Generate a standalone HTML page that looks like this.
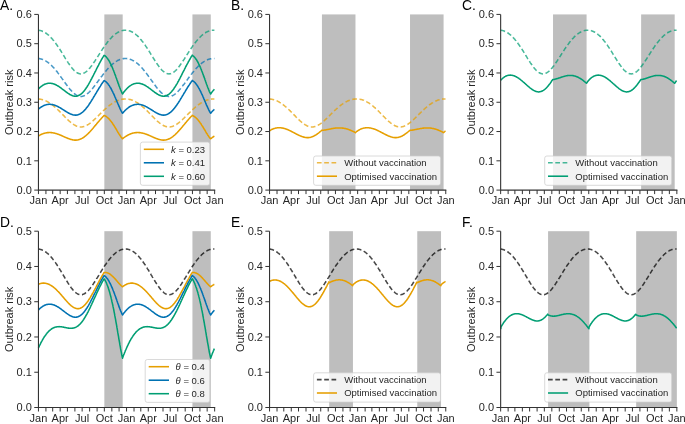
<!DOCTYPE html>
<html><head><meta charset="utf-8"><style>html,body{margin:0;padding:0;background:#fff;overflow:hidden}svg{display:block;filter:blur(0.3px)}</style></head>
<body><svg width="685" height="424" viewBox="0 0 685 424"><style>text{font-family:"Liberation Sans",sans-serif;fill:#262626}.t{font-size:11px}.yl{font-size:11px}.lg{font-size:9.5px}.pl{font-size:13.8px;fill:#000}</style><rect width="685" height="424" fill="#fff"/><rect x="104.34" y="14.42" width="18.34" height="175.68" fill="#bebebe"/><rect x="192.44" y="14.42" width="18.34" height="175.68" fill="#bebebe"/><path d="M38.5,99.0L38.8,99.0L39.2,99.0L39.5,99.1L39.9,99.1L40.3,99.2L40.6,99.3L41.0,99.3L41.3,99.4L41.7,99.5L42.1,99.6L42.4,99.7L42.8,99.8L43.2,99.9L43.5,100.0L43.9,100.1L44.2,100.2L44.6,100.4L45.0,100.5L45.3,100.7L45.7,100.8L46.1,101.0L46.4,101.2L46.8,101.4L47.1,101.5L47.5,101.7L47.9,101.9L48.2,102.1L48.6,102.4L48.9,102.6L49.3,102.8L49.7,103.0L50.0,103.3L50.4,103.5L50.8,103.8L51.1,104.0L51.5,104.3L51.8,104.5L52.2,104.8L52.6,105.1L52.9,105.4L53.3,105.7L53.7,106.0L54.0,106.3L54.4,106.6L54.7,106.9L55.1,107.2L55.5,107.5L55.8,107.8L56.2,108.2L56.6,108.5L56.9,108.8L57.3,109.2L57.6,109.5L58.0,109.9L58.4,110.2L58.7,110.6L59.1,110.9L59.4,111.3L59.8,111.7L60.2,112.0L60.5,112.4L60.9,112.8L61.3,113.1L61.6,113.5L62.0,113.9L62.3,114.2L62.7,114.6L63.1,115.0L63.4,115.4L63.8,115.7L64.2,116.1L64.5,116.5L64.9,116.9L65.2,117.2L65.6,117.6L66.0,118.0L66.3,118.3L66.7,118.7L67.1,119.0L67.4,119.4L67.8,119.7L68.1,120.1L68.5,120.4L68.9,120.8L69.2,121.1L69.6,121.4L69.9,121.7L70.3,122.0L70.7,122.3L71.0,122.6L71.4,122.9L71.8,123.2L72.1,123.5L72.5,123.7L72.8,124.0L73.2,124.3L73.6,124.5L73.9,124.7L74.3,124.9L74.7,125.1L75.0,125.3L75.4,125.5L75.7,125.7L76.1,125.9L76.5,126.0L76.8,126.2L77.2,126.3L77.6,126.4L77.9,126.5L78.3,126.6L78.6,126.7L79.0,126.8L79.4,126.8L79.7,126.9L80.1,126.9L80.4,126.9L80.8,127.0L81.2,126.9L81.5,126.9L81.9,126.9L82.3,126.9L82.6,126.8L83.0,126.7L83.3,126.7L83.7,126.6L84.1,126.5L84.4,126.4L84.8,126.2L85.2,126.1L85.5,125.9L85.9,125.8L86.2,125.6L86.6,125.4L87.0,125.2L87.3,125.0L87.7,124.8L88.1,124.6L88.4,124.4L88.8,124.1L89.1,123.9L89.5,123.6L89.9,123.4L90.2,123.1L90.6,122.8L90.9,122.5L91.3,122.2L91.7,121.9L92.0,121.6L92.4,121.3L92.8,121.0L93.1,120.7L93.5,120.4L93.8,120.0L94.2,119.7L94.6,119.4L94.9,119.0L95.3,118.7L95.7,118.3L96.0,118.0L96.4,117.6L96.7,117.3L97.1,116.9L97.5,116.5L97.8,116.2L98.2,115.8L98.6,115.5L98.9,115.1L99.3,114.7L99.6,114.4L100.0,114.0L100.4,113.7L100.7,113.3L101.1,112.9L101.4,112.6L101.8,112.2L102.2,111.9L102.5,111.5L102.9,111.2L103.3,110.8L103.6,110.5L104.0,110.1L104.3,109.8L104.7,109.5L105.1,109.1L105.4,108.8L105.8,108.5L106.2,108.2L106.5,107.8L106.9,107.5L107.2,107.2L107.6,106.9L108.0,106.6L108.3,106.3L108.7,106.0L109.1,105.7L109.4,105.5L109.8,105.2L110.1,104.9L110.5,104.6L110.9,104.4L111.2,104.1L111.6,103.9L111.9,103.6L112.3,103.4L112.7,103.2L113.0,102.9L113.4,102.7L113.8,102.5L114.1,102.3L114.5,102.1L114.8,101.9L115.2,101.7L115.6,101.5L115.9,101.3L116.3,101.1L116.7,101.0L117.0,100.8L117.4,100.7L117.7,100.5L118.1,100.4L118.5,100.2L118.8,100.1L119.2,100.0L119.6,99.9L119.9,99.8L120.3,99.7L120.6,99.6L121.0,99.5L121.4,99.4L121.7,99.3L122.1,99.3L122.4,99.2L122.8,99.1L123.2,99.1L123.5,99.1L123.9,99.0L124.3,99.0L124.6,99.0L125.0,99.0L125.3,99.0L125.7,99.0L126.1,99.0L126.4,99.0L126.8,99.0L127.2,99.0L127.5,99.1L127.9,99.1L128.2,99.2L128.6,99.2L129.0,99.3L129.3,99.4L129.7,99.4L130.0,99.5L130.4,99.6L130.8,99.7L131.1,99.8L131.5,100.0L131.9,100.1L132.2,100.2L132.6,100.3L132.9,100.5L133.3,100.6L133.7,100.8L134.0,100.9L134.4,101.1L134.8,101.3L135.1,101.5L135.5,101.7L135.8,101.9L136.2,102.1L136.6,102.3L136.9,102.5L137.3,102.7L137.7,102.9L138.0,103.2L138.4,103.4L138.7,103.7L139.1,103.9L139.5,104.2L139.8,104.4L140.2,104.7L140.5,105.0L140.9,105.3L141.3,105.6L141.6,105.9L142.0,106.2L142.4,106.5L142.7,106.8L143.1,107.1L143.4,107.4L143.8,107.7L144.2,108.1L144.5,108.4L144.9,108.7L145.3,109.1L145.6,109.4L146.0,109.8L146.3,110.1L146.7,110.5L147.1,110.8L147.4,111.2L147.8,111.5L148.2,111.9L148.5,112.3L148.9,112.6L149.2,113.0L149.6,113.4L150.0,113.7L150.3,114.1L150.7,114.5L151.0,114.9L151.4,115.2L151.8,115.6L152.1,116.0L152.5,116.4L152.9,116.7L153.2,117.1L153.6,117.5L153.9,117.8L154.3,118.2L154.7,118.6L155.0,118.9L155.4,119.3L155.8,119.6L156.1,120.0L156.5,120.3L156.8,120.6L157.2,121.0L157.6,121.3L157.9,121.6L158.3,121.9L158.7,122.2L159.0,122.5L159.4,122.8L159.7,123.1L160.1,123.4L160.5,123.7L160.8,123.9L161.2,124.2L161.5,124.4L161.9,124.6L162.3,124.9L162.6,125.1L163.0,125.3L163.4,125.5L163.7,125.7L164.1,125.8L164.4,126.0L164.8,126.1L165.2,126.3L165.5,126.4L165.9,126.5L166.3,126.6L166.6,126.7L167.0,126.8L167.3,126.8L167.7,126.9L168.1,126.9L168.4,126.9L168.8,127.0L169.2,127.0L169.5,126.9L169.9,126.9L170.2,126.9L170.6,126.8L171.0,126.8L171.3,126.7L171.7,126.6L172.0,126.5L172.4,126.4L172.8,126.3L173.1,126.1L173.5,126.0L173.9,125.8L174.2,125.7L174.6,125.5L174.9,125.3L175.3,125.1L175.7,124.9L176.0,124.7L176.4,124.5L176.8,124.2L177.1,124.0L177.5,123.7L177.8,123.5L178.2,123.2L178.6,122.9L178.9,122.6L179.3,122.3L179.7,122.0L180.0,121.7L180.4,121.4L180.7,121.1L181.1,120.8L181.5,120.5L181.8,120.1L182.2,119.8L182.5,119.5L182.9,119.1L183.3,118.8L183.6,118.4L184.0,118.1L184.4,117.7L184.7,117.4L185.1,117.0L185.4,116.7L185.8,116.3L186.2,115.9L186.5,115.6L186.9,115.2L187.3,114.9L187.6,114.5L188.0,114.1L188.3,113.8L188.7,113.4L189.1,113.1L189.4,112.7L189.8,112.3L190.2,112.0L190.5,111.6L190.9,111.3L191.2,110.9L191.6,110.6L192.0,110.3L192.3,109.9L192.7,109.6L193.0,109.2L193.4,108.9L193.8,108.6L194.1,108.3L194.5,107.9L194.9,107.6L195.2,107.3L195.6,107.0L195.9,106.7L196.3,106.4L196.7,106.1L197.0,105.8L197.4,105.5L197.8,105.3L198.1,105.0L198.5,104.7L198.8,104.5L199.2,104.2L199.6,104.0L199.9,103.7L200.3,103.5L200.7,103.2L201.0,103.0L201.4,102.8L201.7,102.6L202.1,102.3L202.5,102.1L202.8,101.9L203.2,101.7L203.5,101.6L203.9,101.4L204.3,101.2L204.6,101.0L205.0,100.9L205.4,100.7L205.7,100.6L206.1,100.4L206.4,100.3L206.8,100.1L207.2,100.0L207.5,99.9L207.9,99.8L208.3,99.7L208.6,99.6L209.0,99.5L209.3,99.4L209.7,99.3L210.1,99.3L210.4,99.2L210.8,99.2L211.2,99.1L211.5,99.1L211.9,99.0L212.2,99.0L212.6,99.0L213.0,99.0L213.3,99.0L213.7,99.0L214.0,99.0L214.4,99.0" stroke="#E69F00" stroke-opacity="0.72" stroke-width="1.55" stroke-dasharray="4.7 2.6" fill="none"/><path d="M38.5,58.5L38.8,58.6L39.2,58.6L39.5,58.6L39.9,58.7L40.3,58.8L40.6,58.9L41.0,58.9L41.3,59.0L41.7,59.2L42.1,59.3L42.4,59.4L42.8,59.5L43.2,59.7L43.5,59.8L43.9,60.0L44.2,60.2L44.6,60.3L45.0,60.5L45.3,60.7L45.7,60.9L46.1,61.2L46.4,61.4L46.8,61.6L47.1,61.9L47.5,62.1L47.9,62.4L48.2,62.7L48.6,62.9L48.9,63.2L49.3,63.5L49.7,63.8L50.0,64.1L50.4,64.5L50.8,64.8L51.1,65.1L51.5,65.5L51.8,65.8L52.2,66.2L52.6,66.6L52.9,67.0L53.3,67.3L53.7,67.7L54.0,68.1L54.4,68.5L54.7,69.0L55.1,69.4L55.5,69.8L55.8,70.2L56.2,70.7L56.6,71.1L56.9,71.6L57.3,72.0L57.6,72.5L58.0,73.0L58.4,73.4L58.7,73.9L59.1,74.4L59.4,74.9L59.8,75.4L60.2,75.9L60.5,76.4L60.9,76.9L61.3,77.4L61.6,77.9L62.0,78.4L62.3,78.9L62.7,79.4L63.1,79.9L63.4,80.4L63.8,80.9L64.2,81.4L64.5,82.0L64.9,82.5L65.2,83.0L65.6,83.5L66.0,84.0L66.3,84.5L66.7,85.0L67.1,85.5L67.4,85.9L67.8,86.4L68.1,86.9L68.5,87.4L68.9,87.8L69.2,88.3L69.6,88.7L69.9,89.2L70.3,89.6L70.7,90.0L71.0,90.4L71.4,90.8L71.8,91.2L72.1,91.6L72.5,92.0L72.8,92.3L73.2,92.7L73.6,93.0L73.9,93.3L74.3,93.6L74.7,93.9L75.0,94.2L75.4,94.5L75.7,94.7L76.1,94.9L76.5,95.2L76.8,95.4L77.2,95.5L77.6,95.7L77.9,95.9L78.3,96.0L78.6,96.1L79.0,96.2L79.4,96.3L79.7,96.4L80.1,96.4L80.4,96.4L80.8,96.4L81.2,96.4L81.5,96.4L81.9,96.4L82.3,96.3L82.6,96.2L83.0,96.1L83.3,96.0L83.7,95.9L84.1,95.8L84.4,95.6L84.8,95.4L85.2,95.2L85.5,95.0L85.9,94.8L86.2,94.6L86.6,94.3L87.0,94.1L87.3,93.8L87.7,93.5L88.1,93.2L88.4,92.8L88.8,92.5L89.1,92.2L89.5,91.8L89.9,91.5L90.2,91.1L90.6,90.7L90.9,90.3L91.3,89.9L91.7,89.5L92.0,89.0L92.4,88.6L92.8,88.2L93.1,87.7L93.5,87.3L93.8,86.8L94.2,86.4L94.6,85.9L94.9,85.4L95.3,85.0L95.7,84.5L96.0,84.0L96.4,83.5L96.7,83.0L97.1,82.5L97.5,82.0L97.8,81.5L98.2,81.1L98.6,80.6L98.9,80.1L99.3,79.6L99.6,79.1L100.0,78.6L100.4,78.1L100.7,77.6L101.1,77.1L101.4,76.6L101.8,76.2L102.2,75.7L102.5,75.2L102.9,74.7L103.3,74.3L103.6,73.8L104.0,73.3L104.3,72.9L104.7,72.4L105.1,72.0L105.4,71.5L105.8,71.1L106.2,70.7L106.5,70.2L106.9,69.8L107.2,69.4L107.6,69.0L108.0,68.6L108.3,68.2L108.7,67.8L109.1,67.4L109.4,67.1L109.8,66.7L110.1,66.3L110.5,66.0L110.9,65.6L111.2,65.3L111.6,65.0L111.9,64.6L112.3,64.3L112.7,64.0L113.0,63.7L113.4,63.4L113.8,63.1L114.1,62.8L114.5,62.6L114.8,62.3L115.2,62.1L115.6,61.8L115.9,61.6L116.3,61.3L116.7,61.1L117.0,60.9L117.4,60.7L117.7,60.5L118.1,60.3L118.5,60.1L118.8,60.0L119.2,59.8L119.6,59.7L119.9,59.5L120.3,59.4L120.6,59.3L121.0,59.2L121.4,59.0L121.7,58.9L122.1,58.9L122.4,58.8L122.8,58.7L123.2,58.6L123.5,58.6L123.9,58.6L124.3,58.5L124.6,58.5L125.0,58.5L125.3,58.5L125.7,58.5L126.1,58.5L126.4,58.5L126.8,58.5L127.2,58.6L127.5,58.6L127.9,58.7L128.2,58.8L128.6,58.8L129.0,58.9L129.3,59.0L129.7,59.1L130.0,59.2L130.4,59.4L130.8,59.5L131.1,59.6L131.5,59.8L131.9,59.9L132.2,60.1L132.6,60.3L132.9,60.5L133.3,60.7L133.7,60.9L134.0,61.1L134.4,61.3L134.8,61.5L135.1,61.8L135.5,62.0L135.8,62.3L136.2,62.6L136.6,62.8L136.9,63.1L137.3,63.4L137.7,63.7L138.0,64.0L138.4,64.4L138.7,64.7L139.1,65.0L139.5,65.4L139.8,65.7L140.2,66.1L140.5,66.4L140.9,66.8L141.3,67.2L141.6,67.6L142.0,68.0L142.4,68.4L142.7,68.8L143.1,69.2L143.4,69.7L143.8,70.1L144.2,70.5L144.5,71.0L144.9,71.4L145.3,71.9L145.6,72.3L146.0,72.8L146.3,73.3L146.7,73.8L147.1,74.2L147.4,74.7L147.8,75.2L148.2,75.7L148.5,76.2L148.9,76.7L149.2,77.2L149.6,77.7L150.0,78.2L150.3,78.7L150.7,79.2L151.0,79.7L151.4,80.3L151.8,80.8L152.1,81.3L152.5,81.8L152.9,82.3L153.2,82.8L153.6,83.3L153.9,83.8L154.3,84.3L154.7,84.8L155.0,85.3L155.4,85.8L155.8,86.3L156.1,86.7L156.5,87.2L156.8,87.7L157.2,88.1L157.6,88.6L157.9,89.0L158.3,89.5L158.7,89.9L159.0,90.3L159.4,90.7L159.7,91.1L160.1,91.5L160.5,91.9L160.8,92.2L161.2,92.6L161.5,92.9L161.9,93.2L162.3,93.5L162.6,93.8L163.0,94.1L163.4,94.4L163.7,94.6L164.1,94.9L164.4,95.1L164.8,95.3L165.2,95.5L165.5,95.7L165.9,95.8L166.3,96.0L166.6,96.1L167.0,96.2L167.3,96.3L167.7,96.3L168.1,96.4L168.4,96.4L168.8,96.4L169.2,96.4L169.5,96.4L169.9,96.4L170.2,96.3L170.6,96.3L171.0,96.2L171.3,96.1L171.7,96.0L172.0,95.8L172.4,95.7L172.8,95.5L173.1,95.3L173.5,95.1L173.9,94.9L174.2,94.7L174.6,94.4L174.9,94.1L175.3,93.9L175.7,93.6L176.0,93.3L176.4,93.0L176.8,92.6L177.1,92.3L177.5,91.9L177.8,91.6L178.2,91.2L178.6,90.8L178.9,90.4L179.3,90.0L179.7,89.6L180.0,89.2L180.4,88.8L180.7,88.3L181.1,87.9L181.5,87.4L181.8,87.0L182.2,86.5L182.5,86.1L182.9,85.6L183.3,85.1L183.6,84.6L184.0,84.2L184.4,83.7L184.7,83.2L185.1,82.7L185.4,82.2L185.8,81.7L186.2,81.2L186.5,80.7L186.9,80.2L187.3,79.7L187.6,79.2L188.0,78.8L188.3,78.3L188.7,77.8L189.1,77.3L189.4,76.8L189.8,76.3L190.2,75.8L190.5,75.4L190.9,74.9L191.2,74.4L191.6,74.0L192.0,73.5L192.3,73.0L192.7,72.6L193.0,72.1L193.4,71.7L193.8,71.2L194.1,70.8L194.5,70.4L194.9,70.0L195.2,69.5L195.6,69.1L195.9,68.7L196.3,68.3L196.7,67.9L197.0,67.6L197.4,67.2L197.8,66.8L198.1,66.4L198.5,66.1L198.8,65.7L199.2,65.4L199.6,65.1L199.9,64.7L200.3,64.4L200.7,64.1L201.0,63.8L201.4,63.5L201.7,63.2L202.1,62.9L202.5,62.7L202.8,62.4L203.2,62.1L203.5,61.9L203.9,61.6L204.3,61.4L204.6,61.2L205.0,61.0L205.4,60.8L205.7,60.6L206.1,60.4L206.4,60.2L206.8,60.0L207.2,59.9L207.5,59.7L207.9,59.6L208.3,59.4L208.6,59.3L209.0,59.2L209.3,59.1L209.7,59.0L210.1,58.9L210.4,58.8L210.8,58.7L211.2,58.7L211.5,58.6L211.9,58.6L212.2,58.5L212.6,58.5L213.0,58.5L213.3,58.5L213.7,58.5L214.0,58.5L214.4,58.5" stroke="#0072B2" stroke-opacity="0.72" stroke-width="1.55" stroke-dasharray="4.7 2.6" fill="none"/><path d="M38.5,30.2L38.8,30.3L39.2,30.3L39.5,30.4L39.9,30.5L40.3,30.5L40.6,30.6L41.0,30.7L41.3,30.8L41.7,31.0L42.1,31.1L42.4,31.2L42.8,31.4L43.2,31.5L43.5,31.7L43.9,31.9L44.2,32.1L44.6,32.3L45.0,32.5L45.3,32.7L45.7,33.0L46.1,33.2L46.4,33.5L46.8,33.7L47.1,34.0L47.5,34.3L47.9,34.6L48.2,34.9L48.6,35.2L48.9,35.5L49.3,35.9L49.7,36.2L50.0,36.6L50.4,36.9L50.8,37.3L51.1,37.7L51.5,38.1L51.8,38.5L52.2,38.9L52.6,39.3L52.9,39.7L53.3,40.2L53.7,40.6L54.0,41.1L54.4,41.5L54.7,42.0L55.1,42.5L55.5,43.0L55.8,43.5L56.2,44.0L56.6,44.5L56.9,45.0L57.3,45.5L57.6,46.0L58.0,46.6L58.4,47.1L58.7,47.7L59.1,48.2L59.4,48.8L59.8,49.3L60.2,49.9L60.5,50.5L60.9,51.0L61.3,51.6L61.6,52.2L62.0,52.8L62.3,53.4L62.7,54.0L63.1,54.5L63.4,55.1L63.8,55.7L64.2,56.3L64.5,56.9L64.9,57.5L65.2,58.1L65.6,58.7L66.0,59.2L66.3,59.8L66.7,60.4L67.1,61.0L67.4,61.5L67.8,62.1L68.1,62.6L68.5,63.2L68.9,63.7L69.2,64.3L69.6,64.8L69.9,65.3L70.3,65.8L70.7,66.3L71.0,66.8L71.4,67.3L71.8,67.7L72.1,68.2L72.5,68.6L72.8,69.0L73.2,69.4L73.6,69.8L73.9,70.2L74.3,70.6L74.7,70.9L75.0,71.2L75.4,71.5L75.7,71.8L76.1,72.1L76.5,72.4L76.8,72.6L77.2,72.8L77.6,73.0L77.9,73.2L78.3,73.3L78.6,73.5L79.0,73.6L79.4,73.7L79.7,73.8L80.1,73.8L80.4,73.9L80.8,73.9L81.2,73.9L81.5,73.8L81.9,73.8L82.3,73.7L82.6,73.6L83.0,73.5L83.3,73.4L83.7,73.2L84.1,73.1L84.4,72.9L84.8,72.7L85.2,72.4L85.5,72.2L85.9,71.9L86.2,71.7L86.6,71.4L87.0,71.0L87.3,70.7L87.7,70.4L88.1,70.0L88.4,69.6L88.8,69.2L89.1,68.8L89.5,68.4L89.9,68.0L90.2,67.5L90.6,67.1L90.9,66.6L91.3,66.1L91.7,65.7L92.0,65.2L92.4,64.7L92.8,64.2L93.1,63.6L93.5,63.1L93.8,62.6L94.2,62.0L94.6,61.5L94.9,60.9L95.3,60.4L95.7,59.8L96.0,59.3L96.4,58.7L96.7,58.1L97.1,57.6L97.5,57.0L97.8,56.4L98.2,55.9L98.6,55.3L98.9,54.7L99.3,54.2L99.6,53.6L100.0,53.0L100.4,52.5L100.7,51.9L101.1,51.3L101.4,50.8L101.8,50.2L102.2,49.7L102.5,49.1L102.9,48.6L103.3,48.0L103.6,47.5L104.0,47.0L104.3,46.5L104.7,45.9L105.1,45.4L105.4,44.9L105.8,44.4L106.2,43.9L106.5,43.5L106.9,43.0L107.2,42.5L107.6,42.0L108.0,41.6L108.3,41.1L108.7,40.7L109.1,40.3L109.4,39.8L109.8,39.4L110.1,39.0L110.5,38.6L110.9,38.2L111.2,37.8L111.6,37.5L111.9,37.1L112.3,36.7L112.7,36.4L113.0,36.0L113.4,35.7L113.8,35.4L114.1,35.1L114.5,34.8L114.8,34.5L115.2,34.2L115.6,33.9L115.9,33.7L116.3,33.4L116.7,33.2L117.0,32.9L117.4,32.7L117.7,32.5L118.1,32.3L118.5,32.1L118.8,31.9L119.2,31.7L119.6,31.5L119.9,31.4L120.3,31.2L120.6,31.1L121.0,31.0L121.4,30.8L121.7,30.7L122.1,30.6L122.4,30.5L122.8,30.5L123.2,30.4L123.5,30.3L123.9,30.3L124.3,30.2L124.6,30.2L125.0,30.2L125.3,30.2L125.7,30.2L126.1,30.2L126.4,30.2L126.8,30.3L127.2,30.3L127.5,30.4L127.9,30.4L128.2,30.5L128.6,30.6L129.0,30.7L129.3,30.8L129.7,30.9L130.0,31.0L130.4,31.2L130.8,31.3L131.1,31.5L131.5,31.7L131.9,31.8L132.2,32.0L132.6,32.2L132.9,32.4L133.3,32.6L133.7,32.9L134.0,33.1L134.4,33.4L134.8,33.6L135.1,33.9L135.5,34.2L135.8,34.5L136.2,34.8L136.6,35.1L136.9,35.4L137.3,35.7L137.7,36.1L138.0,36.4L138.4,36.8L138.7,37.2L139.1,37.5L139.5,37.9L139.8,38.3L140.2,38.7L140.5,39.2L140.9,39.6L141.3,40.0L141.6,40.5L142.0,40.9L142.4,41.4L142.7,41.8L143.1,42.3L143.4,42.8L143.8,43.3L144.2,43.8L144.5,44.3L144.9,44.8L145.3,45.3L145.6,45.9L146.0,46.4L146.3,46.9L146.7,47.5L147.1,48.0L147.4,48.6L147.8,49.1L148.2,49.7L148.5,50.3L148.9,50.8L149.2,51.4L149.6,52.0L150.0,52.6L150.3,53.2L150.7,53.8L151.0,54.4L151.4,54.9L151.8,55.5L152.1,56.1L152.5,56.7L152.9,57.3L153.2,57.9L153.6,58.5L153.9,59.1L154.3,59.6L154.7,60.2L155.0,60.8L155.4,61.3L155.8,61.9L156.1,62.5L156.5,63.0L156.8,63.6L157.2,64.1L157.6,64.6L157.9,65.1L158.3,65.6L158.7,66.1L159.0,66.6L159.4,67.1L159.7,67.6L160.1,68.0L160.5,68.5L160.8,68.9L161.2,69.3L161.5,69.7L161.9,70.1L162.3,70.4L162.6,70.8L163.0,71.1L163.4,71.4L163.7,71.7L164.1,72.0L164.4,72.3L164.8,72.5L165.2,72.7L165.5,72.9L165.9,73.1L166.3,73.3L166.6,73.4L167.0,73.6L167.3,73.7L167.7,73.7L168.1,73.8L168.4,73.8L168.8,73.9L169.2,73.9L169.5,73.8L169.9,73.8L170.2,73.7L170.6,73.7L171.0,73.6L171.3,73.4L171.7,73.3L172.0,73.1L172.4,72.9L172.8,72.7L173.1,72.5L173.5,72.3L173.9,72.0L174.2,71.8L174.6,71.5L174.9,71.2L175.3,70.8L175.7,70.5L176.0,70.1L176.4,69.8L176.8,69.4L177.1,69.0L177.5,68.6L177.8,68.1L178.2,67.7L178.6,67.2L178.9,66.8L179.3,66.3L179.7,65.8L180.0,65.3L180.4,64.8L180.7,64.3L181.1,63.8L181.5,63.3L181.8,62.8L182.2,62.2L182.5,61.7L182.9,61.1L183.3,60.6L183.6,60.0L184.0,59.5L184.4,58.9L184.7,58.3L185.1,57.8L185.4,57.2L185.8,56.6L186.2,56.1L186.5,55.5L186.9,54.9L187.3,54.3L187.6,53.8L188.0,53.2L188.3,52.6L188.7,52.1L189.1,51.5L189.4,51.0L189.8,50.4L190.2,49.9L190.5,49.3L190.9,48.8L191.2,48.2L191.6,47.7L192.0,47.2L192.3,46.6L192.7,46.1L193.0,45.6L193.4,45.1L193.8,44.6L194.1,44.1L194.5,43.6L194.9,43.1L195.2,42.7L195.6,42.2L195.9,41.7L196.3,41.3L196.7,40.8L197.0,40.4L197.4,40.0L197.8,39.6L198.1,39.1L198.5,38.7L198.8,38.3L199.2,38.0L199.6,37.6L199.9,37.2L200.3,36.9L200.7,36.5L201.0,36.2L201.4,35.8L201.7,35.5L202.1,35.2L202.5,34.9L202.8,34.6L203.2,34.3L203.5,34.0L203.9,33.7L204.3,33.5L204.6,33.2L205.0,33.0L205.4,32.8L205.7,32.5L206.1,32.3L206.4,32.1L206.8,31.9L207.2,31.8L207.5,31.6L207.9,31.4L208.3,31.3L208.6,31.1L209.0,31.0L209.3,30.9L209.7,30.8L210.1,30.7L210.4,30.6L210.8,30.5L211.2,30.4L211.5,30.3L211.9,30.3L212.2,30.3L212.6,30.2L213.0,30.2L213.3,30.2L213.7,30.2L214.0,30.2L214.4,30.2" stroke="#009E73" stroke-opacity="0.72" stroke-width="1.55" stroke-dasharray="4.7 2.6" fill="none"/><path d="M38.5,135.9L38.8,135.7L39.2,135.5L39.5,135.3L39.9,135.1L40.3,134.9L40.6,134.7L41.0,134.5L41.3,134.4L41.7,134.2L42.1,134.1L42.4,133.9L42.8,133.8L43.2,133.6L43.5,133.5L43.9,133.4L44.2,133.3L44.6,133.2L45.0,133.1L45.3,133.0L45.7,132.9L46.1,132.9L46.4,132.8L46.8,132.7L47.1,132.7L47.5,132.6L47.9,132.6L48.2,132.6L48.6,132.6L48.9,132.5L49.3,132.5L49.7,132.5L50.0,132.5L50.4,132.5L50.8,132.6L51.1,132.6L51.5,132.6L51.8,132.7L52.2,132.7L52.6,132.8L52.9,132.8L53.3,132.9L53.7,132.9L54.0,133.0L54.4,133.1L54.7,133.2L55.1,133.3L55.5,133.4L55.8,133.5L56.2,133.6L56.6,133.7L56.9,133.8L57.3,133.9L57.6,134.0L58.0,134.2L58.4,134.3L58.7,134.4L59.1,134.6L59.4,134.7L59.8,134.9L60.2,135.0L60.5,135.2L60.9,135.3L61.3,135.5L61.6,135.6L62.0,135.8L62.3,136.0L62.7,136.1L63.1,136.3L63.4,136.4L63.8,136.6L64.2,136.8L64.5,136.9L64.9,137.1L65.2,137.3L65.6,137.4L66.0,137.6L66.3,137.7L66.7,137.9L67.1,138.0L67.4,138.2L67.8,138.3L68.1,138.5L68.5,138.6L68.9,138.7L69.2,138.9L69.6,139.0L69.9,139.1L70.3,139.2L70.7,139.3L71.0,139.5L71.4,139.5L71.8,139.6L72.1,139.7L72.5,139.8L72.8,139.9L73.2,139.9L73.6,140.0L73.9,140.0L74.3,140.1L74.7,140.1L75.0,140.1L75.4,140.1L75.7,140.1L76.1,140.1L76.5,140.1L76.8,140.0L77.2,140.0L77.6,139.9L77.9,139.9L78.3,139.8L78.6,139.7L79.0,139.6L79.4,139.5L79.7,139.4L80.1,139.2L80.4,139.1L80.8,138.9L81.2,138.8L81.5,138.6L81.9,138.4L82.3,138.2L82.6,138.0L83.0,137.8L83.3,137.6L83.7,137.3L84.1,137.1L84.4,136.8L84.8,136.5L85.2,136.2L85.5,135.9L85.9,135.6L86.2,135.3L86.6,135.0L87.0,134.7L87.3,134.3L87.7,134.0L88.1,133.7L88.4,133.3L88.8,132.9L89.1,132.6L89.5,132.2L89.9,131.8L90.2,131.4L90.6,131.0L90.9,130.6L91.3,130.2L91.7,129.8L92.0,129.4L92.4,128.9L92.8,128.5L93.1,128.1L93.5,127.7L93.8,127.2L94.2,126.8L94.6,126.4L94.9,125.9L95.3,125.5L95.7,125.1L96.0,124.6L96.4,124.2L96.7,123.8L97.1,123.3L97.5,122.9L97.8,122.5L98.2,122.0L98.6,121.6L98.9,121.2L99.3,120.7L99.6,120.3L100.0,119.9L100.4,119.5L100.7,119.1L101.1,118.7L101.4,118.3L101.8,117.9L102.2,117.5L102.5,117.1L102.9,116.7L103.3,116.3L103.6,115.9L104.0,115.6L104.3,115.5L104.7,115.7L105.1,115.8L105.4,116.0L105.8,116.3L106.2,116.5L106.5,116.7L106.9,117.0L107.2,117.3L107.6,117.6L108.0,117.9L108.3,118.3L108.7,118.6L109.1,119.0L109.4,119.4L109.8,119.8L110.1,120.2L110.5,120.7L110.9,121.1L111.2,121.6L111.6,122.1L111.9,122.6L112.3,123.1L112.7,123.6L113.0,124.2L113.4,124.7L113.8,125.3L114.1,125.8L114.5,126.4L114.8,127.0L115.2,127.6L115.6,128.2L115.9,128.8L116.3,129.4L116.7,130.0L117.0,130.6L117.4,131.2L117.7,131.8L118.1,132.5L118.5,133.1L118.8,133.6L119.2,134.2L119.6,134.8L119.9,135.3L120.3,135.9L120.6,136.4L121.0,136.9L121.4,137.4L121.7,137.9L122.1,138.3L122.4,138.7L122.6,138.8L122.8,138.5L123.2,138.3L123.5,138.0L123.9,137.7L124.3,137.4L124.6,137.2L125.0,136.9L125.3,136.7L125.7,136.4L126.1,136.2L126.4,136.0L126.8,135.8L127.2,135.5L127.5,135.3L127.9,135.1L128.2,135.0L128.6,134.8L129.0,134.6L129.3,134.4L129.7,134.3L130.0,134.1L130.4,134.0L130.8,133.8L131.1,133.7L131.5,133.6L131.9,133.4L132.2,133.3L132.6,133.2L132.9,133.1L133.3,133.0L133.7,133.0L134.0,132.9L134.4,132.8L134.8,132.8L135.1,132.7L135.5,132.7L135.8,132.6L136.2,132.6L136.6,132.6L136.9,132.5L137.3,132.5L137.7,132.5L138.0,132.5L138.4,132.5L138.7,132.6L139.1,132.6L139.5,132.6L139.8,132.6L140.2,132.7L140.5,132.7L140.9,132.8L141.3,132.9L141.6,132.9L142.0,133.0L142.4,133.1L142.7,133.2L143.1,133.2L143.4,133.3L143.8,133.4L144.2,133.5L144.5,133.6L144.9,133.8L145.3,133.9L145.6,134.0L146.0,134.1L146.3,134.3L146.7,134.4L147.1,134.5L147.4,134.7L147.8,134.8L148.2,135.0L148.5,135.1L148.9,135.3L149.2,135.4L149.6,135.6L150.0,135.7L150.3,135.9L150.7,136.1L151.0,136.2L151.4,136.4L151.8,136.5L152.1,136.7L152.5,136.9L152.9,137.0L153.2,137.2L153.6,137.4L153.9,137.5L154.3,137.7L154.7,137.8L155.0,138.0L155.4,138.1L155.8,138.3L156.1,138.4L156.5,138.6L156.8,138.7L157.2,138.8L157.6,139.0L157.9,139.1L158.3,139.2L158.7,139.3L159.0,139.4L159.4,139.5L159.7,139.6L160.1,139.7L160.5,139.8L160.8,139.8L161.2,139.9L161.5,140.0L161.9,140.0L162.3,140.0L162.6,140.1L163.0,140.1L163.4,140.1L163.7,140.1L164.1,140.1L164.4,140.1L164.8,140.0L165.2,140.0L165.5,140.0L165.9,139.9L166.3,139.8L166.6,139.7L167.0,139.6L167.3,139.5L167.7,139.4L168.1,139.3L168.4,139.1L168.8,139.0L169.2,138.8L169.5,138.7L169.9,138.5L170.2,138.3L170.6,138.1L171.0,137.9L171.3,137.6L171.7,137.4L172.0,137.1L172.4,136.9L172.8,136.6L173.1,136.3L173.5,136.0L173.9,135.7L174.2,135.4L174.6,135.1L174.9,134.8L175.3,134.5L175.7,134.1L176.0,133.8L176.4,133.4L176.8,133.0L177.1,132.7L177.5,132.3L177.8,131.9L178.2,131.5L178.6,131.1L178.9,130.7L179.3,130.3L179.7,129.9L180.0,129.5L180.4,129.1L180.7,128.7L181.1,128.2L181.5,127.8L181.8,127.4L182.2,126.9L182.5,126.5L182.9,126.1L183.3,125.6L183.6,125.2L184.0,124.8L184.4,124.3L184.7,123.9L185.1,123.5L185.4,123.0L185.8,122.6L186.2,122.2L186.5,121.7L186.9,121.3L187.3,120.9L187.6,120.5L188.0,120.0L188.3,119.6L188.7,119.2L189.1,118.8L189.4,118.4L189.8,118.0L190.2,117.6L190.5,117.2L190.9,116.8L191.2,116.4L191.6,116.1L192.0,115.7L192.3,115.3L192.4,115.5L192.7,115.6L193.0,115.8L193.4,116.0L193.8,116.2L194.1,116.4L194.5,116.7L194.9,116.9L195.2,117.2L195.6,117.5L195.9,117.8L196.3,118.2L196.7,118.5L197.0,118.9L197.4,119.3L197.8,119.7L198.1,120.1L198.5,120.5L198.8,121.0L199.2,121.4L199.6,121.9L199.9,122.4L200.3,122.9L200.7,123.4L201.0,124.0L201.4,124.5L201.7,125.1L202.1,125.7L202.5,126.2L202.8,126.8L203.2,127.4L203.5,128.0L203.9,128.6L204.3,129.2L204.6,129.8L205.0,130.4L205.4,131.0L205.7,131.6L206.1,132.3L206.4,132.9L206.8,133.4L207.2,134.0L207.5,134.6L207.9,135.2L208.3,135.7L208.6,136.2L209.0,136.8L209.3,137.2L209.7,137.7L210.1,138.2L210.4,138.6L210.7,138.8L210.8,138.6L211.2,138.4L211.5,138.1L211.9,137.8L212.2,137.5L212.6,137.3L213.0,137.0L213.3,136.8L213.7,136.5L214.0,136.3L214.4,136.1" stroke="#E69F00" stroke-width="1.55" fill="none" stroke-linejoin="round"/><path d="M38.5,109.1L38.8,108.8L39.2,108.5L39.5,108.2L39.9,107.9L40.3,107.7L40.6,107.4L41.0,107.2L41.3,106.9L41.7,106.7L42.1,106.5L42.4,106.3L42.8,106.1L43.2,105.9L43.5,105.7L43.9,105.5L44.2,105.4L44.6,105.2L45.0,105.1L45.3,105.0L45.7,104.9L46.1,104.8L46.4,104.7L46.8,104.6L47.1,104.5L47.5,104.5L47.9,104.4L48.2,104.4L48.6,104.3L48.9,104.3L49.3,104.3L49.7,104.3L50.0,104.3L50.4,104.3L50.8,104.4L51.1,104.4L51.5,104.4L51.8,104.5L52.2,104.6L52.6,104.6L52.9,104.7L53.3,104.8L53.7,104.9L54.0,105.0L54.4,105.1L54.7,105.2L55.1,105.4L55.5,105.5L55.8,105.6L56.2,105.8L56.6,105.9L56.9,106.1L57.3,106.3L57.6,106.5L58.0,106.6L58.4,106.8L58.7,107.0L59.1,107.2L59.4,107.4L59.8,107.6L60.2,107.8L60.5,108.0L60.9,108.3L61.3,108.5L61.6,108.7L62.0,108.9L62.3,109.2L62.7,109.4L63.1,109.6L63.4,109.9L63.8,110.1L64.2,110.3L64.5,110.6L64.9,110.8L65.2,111.0L65.6,111.3L66.0,111.5L66.3,111.7L66.7,111.9L67.1,112.1L67.4,112.4L67.8,112.6L68.1,112.8L68.5,113.0L68.9,113.2L69.2,113.4L69.6,113.5L69.9,113.7L70.3,113.9L70.7,114.0L71.0,114.2L71.4,114.3L71.8,114.4L72.1,114.6L72.5,114.7L72.8,114.8L73.2,114.9L73.6,114.9L73.9,115.0L74.3,115.0L74.7,115.1L75.0,115.1L75.4,115.1L75.7,115.1L76.1,115.1L76.5,115.1L76.8,115.0L77.2,114.9L77.6,114.9L77.9,114.8L78.3,114.7L78.6,114.5L79.0,114.4L79.4,114.2L79.7,114.1L80.1,113.9L80.4,113.7L80.8,113.5L81.2,113.2L81.5,113.0L81.9,112.7L82.3,112.4L82.6,112.1L83.0,111.8L83.3,111.5L83.7,111.1L84.1,110.7L84.4,110.4L84.8,110.0L85.2,109.6L85.5,109.2L85.9,108.7L86.2,108.3L86.6,107.8L87.0,107.4L87.3,106.9L87.7,106.4L88.1,105.9L88.4,105.4L88.8,104.9L89.1,104.3L89.5,103.8L89.9,103.3L90.2,102.7L90.6,102.1L90.9,101.6L91.3,101.0L91.7,100.4L92.0,99.8L92.4,99.2L92.8,98.6L93.1,98.0L93.5,97.4L93.8,96.8L94.2,96.2L94.6,95.6L94.9,95.0L95.3,94.4L95.7,93.8L96.0,93.2L96.4,92.6L96.7,92.0L97.1,91.4L97.5,90.8L97.8,90.2L98.2,89.6L98.6,89.0L98.9,88.4L99.3,87.8L99.6,87.2L100.0,86.7L100.4,86.1L100.7,85.5L101.1,85.0L101.4,84.4L101.8,83.8L102.2,83.3L102.5,82.8L102.9,82.2L103.3,81.7L103.6,81.2L104.0,80.7L104.3,80.6L104.7,80.8L105.1,81.1L105.4,81.3L105.8,81.6L106.2,82.0L106.5,82.3L106.9,82.7L107.2,83.1L107.6,83.5L108.0,83.9L108.3,84.4L108.7,84.9L109.1,85.4L109.4,85.9L109.8,86.5L110.1,87.1L110.5,87.7L110.9,88.3L111.2,89.0L111.6,89.7L111.9,90.4L112.3,91.1L112.7,91.8L113.0,92.6L113.4,93.3L113.8,94.1L114.1,94.9L114.5,95.7L114.8,96.5L115.2,97.4L115.6,98.2L115.9,99.0L116.3,99.9L116.7,100.8L117.0,101.6L117.4,102.5L117.7,103.3L118.1,104.2L118.5,105.0L118.8,105.9L119.2,106.7L119.6,107.5L119.9,108.3L120.3,109.1L120.6,109.8L121.0,110.6L121.4,111.2L121.7,111.9L122.1,112.5L122.4,113.1L122.6,113.3L122.8,112.9L123.2,112.5L123.5,112.1L123.9,111.7L124.3,111.3L124.6,110.9L125.0,110.6L125.3,110.2L125.7,109.9L126.1,109.5L126.4,109.2L126.8,108.9L127.2,108.6L127.5,108.3L127.9,108.0L128.2,107.7L128.6,107.5L129.0,107.2L129.3,107.0L129.7,106.8L130.0,106.5L130.4,106.3L130.8,106.1L131.1,105.9L131.5,105.8L131.9,105.6L132.2,105.4L132.6,105.3L132.9,105.2L133.3,105.0L133.7,104.9L134.0,104.8L134.4,104.7L134.8,104.6L135.1,104.6L135.5,104.5L135.8,104.4L136.2,104.4L136.6,104.4L136.9,104.3L137.3,104.3L137.7,104.3L138.0,104.3L138.4,104.3L138.7,104.3L139.1,104.4L139.5,104.4L139.8,104.5L140.2,104.5L140.5,104.6L140.9,104.7L141.3,104.8L141.6,104.9L142.0,105.0L142.4,105.1L142.7,105.2L143.1,105.3L143.4,105.4L143.8,105.6L144.2,105.7L144.5,105.9L144.9,106.1L145.3,106.2L145.6,106.4L146.0,106.6L146.3,106.8L146.7,106.9L147.1,107.1L147.4,107.3L147.8,107.6L148.2,107.8L148.5,108.0L148.9,108.2L149.2,108.4L149.6,108.6L150.0,108.9L150.3,109.1L150.7,109.3L151.0,109.6L151.4,109.8L151.8,110.0L152.1,110.3L152.5,110.5L152.9,110.7L153.2,110.9L153.6,111.2L153.9,111.4L154.3,111.6L154.7,111.9L155.0,112.1L155.4,112.3L155.8,112.5L156.1,112.7L156.5,112.9L156.8,113.1L157.2,113.3L157.6,113.5L157.9,113.7L158.3,113.8L158.7,114.0L159.0,114.1L159.4,114.3L159.7,114.4L160.1,114.5L160.5,114.6L160.8,114.7L161.2,114.8L161.5,114.9L161.9,115.0L162.3,115.0L162.6,115.1L163.0,115.1L163.4,115.1L163.7,115.1L164.1,115.1L164.4,115.1L164.8,115.0L165.2,115.0L165.5,114.9L165.9,114.8L166.3,114.7L166.6,114.6L167.0,114.4L167.3,114.3L167.7,114.1L168.1,113.9L168.4,113.7L168.8,113.5L169.2,113.3L169.5,113.0L169.9,112.8L170.2,112.5L170.6,112.2L171.0,111.9L171.3,111.6L171.7,111.2L172.0,110.9L172.4,110.5L172.8,110.1L173.1,109.7L173.5,109.3L173.9,108.9L174.2,108.4L174.6,108.0L174.9,107.5L175.3,107.0L175.7,106.6L176.0,106.1L176.4,105.6L176.8,105.0L177.1,104.5L177.5,104.0L177.8,103.4L178.2,102.9L178.6,102.3L178.9,101.8L179.3,101.2L179.7,100.6L180.0,100.0L180.4,99.4L180.7,98.8L181.1,98.2L181.5,97.6L181.8,97.0L182.2,96.4L182.5,95.8L182.9,95.2L183.3,94.6L183.6,94.0L184.0,93.4L184.4,92.8L184.7,92.2L185.1,91.6L185.4,91.0L185.8,90.4L186.2,89.8L186.5,89.2L186.9,88.6L187.3,88.0L187.6,87.4L188.0,86.8L188.3,86.3L188.7,85.7L189.1,85.1L189.4,84.6L189.8,84.0L190.2,83.5L190.5,83.0L190.9,82.4L191.2,81.9L191.6,81.4L192.0,80.9L192.3,80.4L192.4,80.6L192.7,80.8L193.0,81.0L193.4,81.2L193.8,81.5L194.1,81.8L194.5,82.2L194.9,82.5L195.2,82.9L195.6,83.3L195.9,83.8L196.3,84.2L196.7,84.7L197.0,85.2L197.4,85.8L197.8,86.3L198.1,86.9L198.5,87.5L198.8,88.1L199.2,88.8L199.6,89.4L199.9,90.1L200.3,90.8L200.7,91.6L201.0,92.3L201.4,93.1L201.7,93.8L202.1,94.6L202.5,95.4L202.8,96.2L203.2,97.1L203.5,97.9L203.9,98.8L204.3,99.6L204.6,100.5L205.0,101.3L205.4,102.2L205.7,103.1L206.1,103.9L206.4,104.8L206.8,105.6L207.2,106.4L207.5,107.2L207.9,108.0L208.3,108.8L208.6,109.6L209.0,110.3L209.3,111.0L209.7,111.7L210.1,112.3L210.4,112.9L210.7,113.3L210.8,113.0L211.2,112.6L211.5,112.2L211.9,111.8L212.2,111.4L212.6,111.0L213.0,110.7L213.3,110.3L213.7,110.0L214.0,109.6L214.4,109.3" stroke="#0072B2" stroke-width="1.55" fill="none" stroke-linejoin="round"/><path d="M38.5,88.9L38.8,88.6L39.2,88.2L39.5,87.9L39.9,87.5L40.3,87.2L40.6,86.9L41.0,86.6L41.3,86.3L41.7,86.1L42.1,85.8L42.4,85.5L42.8,85.3L43.2,85.1L43.5,84.9L43.9,84.7L44.2,84.5L44.6,84.3L45.0,84.2L45.3,84.0L45.7,83.9L46.1,83.8L46.4,83.7L46.8,83.6L47.1,83.5L47.5,83.4L47.9,83.3L48.2,83.3L48.6,83.2L48.9,83.2L49.3,83.2L49.7,83.2L50.0,83.2L50.4,83.2L50.8,83.3L51.1,83.3L51.5,83.4L51.8,83.4L52.2,83.5L52.6,83.6L52.9,83.7L53.3,83.8L53.7,83.9L54.0,84.0L54.4,84.2L54.7,84.3L55.1,84.5L55.5,84.6L55.8,84.8L56.2,85.0L56.6,85.2L56.9,85.4L57.3,85.6L57.6,85.8L58.0,86.0L58.4,86.2L58.7,86.4L59.1,86.7L59.4,86.9L59.8,87.2L60.2,87.4L60.5,87.7L60.9,87.9L61.3,88.2L61.6,88.5L62.0,88.8L62.3,89.0L62.7,89.3L63.1,89.6L63.4,89.9L63.8,90.1L64.2,90.4L64.5,90.7L64.9,91.0L65.2,91.3L65.6,91.5L66.0,91.8L66.3,92.1L66.7,92.3L67.1,92.6L67.4,92.9L67.8,93.1L68.1,93.4L68.5,93.6L68.9,93.8L69.2,94.1L69.6,94.3L69.9,94.5L70.3,94.7L70.7,94.9L71.0,95.1L71.4,95.2L71.8,95.4L72.1,95.5L72.5,95.7L72.8,95.8L73.2,95.9L73.6,96.0L73.9,96.1L74.3,96.1L74.7,96.2L75.0,96.2L75.4,96.2L75.7,96.2L76.1,96.2L76.5,96.1L76.8,96.1L77.2,96.0L77.6,95.9L77.9,95.8L78.3,95.6L78.6,95.5L79.0,95.3L79.4,95.1L79.7,94.9L80.1,94.7L80.4,94.4L80.8,94.2L81.2,93.9L81.5,93.6L81.9,93.3L82.3,92.9L82.6,92.6L83.0,92.2L83.3,91.8L83.7,91.4L84.1,90.9L84.4,90.5L84.8,90.0L85.2,89.5L85.5,89.0L85.9,88.5L86.2,88.0L86.6,87.4L87.0,86.9L87.3,86.3L87.7,85.7L88.1,85.1L88.4,84.5L88.8,83.9L89.1,83.2L89.5,82.6L89.9,81.9L90.2,81.3L90.6,80.6L90.9,79.9L91.3,79.3L91.7,78.6L92.0,77.9L92.4,77.2L92.8,76.5L93.1,75.8L93.5,75.1L93.8,74.3L94.2,73.6L94.6,72.9L94.9,72.2L95.3,71.5L95.7,70.8L96.0,70.0L96.4,69.3L96.7,68.6L97.1,67.9L97.5,67.2L97.8,66.5L98.2,65.8L98.6,65.1L98.9,64.4L99.3,63.7L99.6,63.0L100.0,62.4L100.4,61.7L100.7,61.0L101.1,60.4L101.4,59.7L101.8,59.1L102.2,58.5L102.5,57.9L102.9,57.2L103.3,56.6L103.6,56.1L104.0,55.5L104.3,55.4L104.7,55.6L105.1,55.9L105.4,56.2L105.8,56.5L106.2,56.9L106.5,57.3L106.9,57.7L107.2,58.2L107.6,58.7L108.0,59.2L108.3,59.7L108.7,60.3L109.1,60.9L109.4,61.5L109.8,62.2L110.1,62.9L110.5,63.6L110.9,64.3L111.2,65.1L111.6,65.9L111.9,66.7L112.3,67.5L112.7,68.4L113.0,69.3L113.4,70.2L113.8,71.1L114.1,72.0L114.5,73.0L114.8,74.0L115.2,74.9L115.6,75.9L115.9,76.9L116.3,78.0L116.7,79.0L117.0,80.0L117.4,81.0L117.7,82.1L118.1,83.1L118.5,84.1L118.8,85.1L119.2,86.1L119.6,87.0L119.9,88.0L120.3,88.9L120.6,89.8L121.0,90.7L121.4,91.5L121.7,92.3L122.1,93.1L122.4,93.8L122.6,94.0L122.8,93.5L123.2,93.0L123.5,92.5L123.9,92.0L124.3,91.6L124.6,91.1L125.0,90.7L125.3,90.3L125.7,89.9L126.1,89.5L126.4,89.1L126.8,88.7L127.2,88.3L127.5,88.0L127.9,87.6L128.2,87.3L128.6,87.0L129.0,86.7L129.3,86.4L129.7,86.1L130.0,85.9L130.4,85.6L130.8,85.4L131.1,85.2L131.5,84.9L131.9,84.7L132.2,84.6L132.6,84.4L132.9,84.2L133.3,84.1L133.7,83.9L134.0,83.8L134.4,83.7L134.8,83.6L135.1,83.5L135.5,83.4L135.8,83.4L136.2,83.3L136.6,83.3L136.9,83.2L137.3,83.2L137.7,83.2L138.0,83.2L138.4,83.2L138.7,83.3L139.1,83.3L139.5,83.3L139.8,83.4L140.2,83.5L140.5,83.6L140.9,83.6L141.3,83.8L141.6,83.9L142.0,84.0L142.4,84.1L142.7,84.3L143.1,84.4L143.4,84.6L143.8,84.7L144.2,84.9L144.5,85.1L144.9,85.3L145.3,85.5L145.6,85.7L146.0,85.9L146.3,86.1L146.7,86.4L147.1,86.6L147.4,86.8L147.8,87.1L148.2,87.3L148.5,87.6L148.9,87.9L149.2,88.1L149.6,88.4L150.0,88.7L150.3,88.9L150.7,89.2L151.0,89.5L151.4,89.8L151.8,90.0L152.1,90.3L152.5,90.6L152.9,90.9L153.2,91.2L153.6,91.4L153.9,91.7L154.3,92.0L154.7,92.3L155.0,92.5L155.4,92.8L155.8,93.0L156.1,93.3L156.5,93.5L156.8,93.8L157.2,94.0L157.6,94.2L157.9,94.4L158.3,94.6L158.7,94.8L159.0,95.0L159.4,95.2L159.7,95.3L160.1,95.5L160.5,95.6L160.8,95.7L161.2,95.9L161.5,95.9L161.9,96.0L162.3,96.1L162.6,96.1L163.0,96.2L163.4,96.2L163.7,96.2L164.1,96.2L164.4,96.1L164.8,96.1L165.2,96.0L165.5,95.9L165.9,95.8L166.3,95.7L166.6,95.5L167.0,95.4L167.3,95.2L167.7,95.0L168.1,94.8L168.4,94.5L168.8,94.3L169.2,94.0L169.5,93.7L169.9,93.4L170.2,93.0L170.6,92.7L171.0,92.3L171.3,91.9L171.7,91.5L172.0,91.1L172.4,90.6L172.8,90.2L173.1,89.7L173.5,89.2L173.9,88.7L174.2,88.1L174.6,87.6L174.9,87.1L175.3,86.5L175.7,85.9L176.0,85.3L176.4,84.7L176.8,84.1L177.1,83.5L177.5,82.8L177.8,82.2L178.2,81.5L178.6,80.8L178.9,80.2L179.3,79.5L179.7,78.8L180.0,78.1L180.4,77.4L180.7,76.7L181.1,76.0L181.5,75.3L181.8,74.6L182.2,73.9L182.5,73.1L182.9,72.4L183.3,71.7L183.6,71.0L184.0,70.3L184.4,69.6L184.7,68.8L185.1,68.1L185.4,67.4L185.8,66.7L186.2,66.0L186.5,65.3L186.9,64.6L187.3,63.9L187.6,63.3L188.0,62.6L188.3,61.9L188.7,61.3L189.1,60.6L189.4,60.0L189.8,59.3L190.2,58.7L190.5,58.1L190.9,57.4L191.2,56.8L191.6,56.2L192.0,55.7L192.3,55.1L192.4,55.4L192.7,55.5L193.0,55.8L193.4,56.1L193.8,56.4L194.1,56.8L194.5,57.2L194.9,57.6L195.2,58.0L195.6,58.5L195.9,59.0L196.3,59.6L196.7,60.1L197.0,60.7L197.4,61.3L197.8,62.0L198.1,62.7L198.5,63.4L198.8,64.1L199.2,64.8L199.6,65.6L199.9,66.4L200.3,67.3L200.7,68.1L201.0,69.0L201.4,69.9L201.7,70.8L202.1,71.7L202.5,72.7L202.8,73.6L203.2,74.6L203.5,75.6L203.9,76.6L204.3,77.6L204.6,78.6L205.0,79.7L205.4,80.7L205.7,81.7L206.1,82.7L206.4,83.7L206.8,84.8L207.2,85.7L207.5,86.7L207.9,87.7L208.3,88.6L208.6,89.5L209.0,90.4L209.3,91.3L209.7,92.1L210.1,92.8L210.4,93.5L210.7,94.0L210.8,93.7L211.2,93.2L211.5,92.7L211.9,92.2L212.2,91.7L212.6,91.3L213.0,90.8L213.3,90.4L213.7,90.0L214.0,89.6L214.4,89.2" stroke="#009E73" stroke-width="1.55" fill="none" stroke-linejoin="round"/><path d="M38.45,14.42V190.65M37.90,190.10H215.20" stroke="#333333" stroke-width="1.1" fill="none"/><path d="M34.25,190.10H38.45M34.25,160.82H38.45M34.25,131.54H38.45M34.25,102.26H38.45M34.25,72.98H38.45M34.25,43.70H38.45M34.25,14.42H38.45M38.45,190.10V194.10M45.93,190.10V194.10M52.69,190.10V194.10M60.17,190.10V194.10M67.41,190.10V194.10M74.90,190.10V194.10M82.14,190.10V194.10M89.62,190.10V194.10M97.10,190.10V194.10M104.34,190.10V194.10M111.83,190.10V194.10M119.07,190.10V194.10M126.55,190.10V194.10M134.03,190.10V194.10M140.79,190.10V194.10M148.27,190.10V194.10M155.51,190.10V194.10M163.00,190.10V194.10M170.24,190.10V194.10M177.72,190.10V194.10M185.20,190.10V194.10M192.44,190.10V194.10M199.93,190.10V194.10M207.17,190.10V194.10M214.65,190.10V194.10" stroke="#333333" stroke-width="1.0" fill="none"/><text x="31.85" y="193.85" text-anchor="end" class="t">0.0</text><text x="31.85" y="164.57" text-anchor="end" class="t">0.1</text><text x="31.85" y="135.29" text-anchor="end" class="t">0.2</text><text x="31.85" y="106.01" text-anchor="end" class="t">0.3</text><text x="31.85" y="76.73" text-anchor="end" class="t">0.4</text><text x="31.85" y="47.45" text-anchor="end" class="t">0.5</text><text x="31.85" y="18.17" text-anchor="end" class="t">0.6</text><text x="38.45" y="204.10" text-anchor="middle" class="t">Jan</text><text x="60.17" y="204.10" text-anchor="middle" class="t">Apr</text><text x="82.14" y="204.10" text-anchor="middle" class="t">Jul</text><text x="104.34" y="204.10" text-anchor="middle" class="t">Oct</text><text x="126.55" y="204.10" text-anchor="middle" class="t">Jan</text><text x="148.27" y="204.10" text-anchor="middle" class="t">Apr</text><text x="170.24" y="204.10" text-anchor="middle" class="t">Jul</text><text x="192.44" y="204.10" text-anchor="middle" class="t">Oct</text><text x="214.65" y="204.10" text-anchor="middle" class="t">Jan</text><text transform="translate(12.55,102.26) rotate(-90)" text-anchor="middle" class="yl">Outbreak risk</text><rect x="140.40" y="142.10" width="69.40" height="43.20" rx="2.2" fill="#ffffff" fill-opacity="0.8" stroke="#cccccc" stroke-opacity="0.8" stroke-width="0.9"/><path d="M143.80,149.30H164.00" stroke="#E69F00" stroke-width="1.55"/><text x="171.00" y="152.60" class="lg"><tspan font-style="italic">k</tspan> = 0.23</text><path d="M143.80,162.80H164.00" stroke="#0072B2" stroke-width="1.55"/><text x="171.00" y="166.10" class="lg"><tspan font-style="italic">k</tspan> = 0.41</text><path d="M143.80,176.30H164.00" stroke="#009E73" stroke-width="1.55"/><text x="171.00" y="179.60" class="lg"><tspan font-style="italic">k</tspan> = 0.60</text><text x="0.0" y="9.8" class="pl">A.</text><rect x="321.93" y="14.42" width="33.55" height="175.68" fill="#bebebe"/><rect x="410.03" y="14.42" width="33.55" height="175.68" fill="#bebebe"/><path d="M269.6,99.0L269.9,99.0L270.3,99.0L270.6,99.1L271.0,99.1L271.4,99.2L271.7,99.3L272.1,99.3L272.4,99.4L272.8,99.5L273.2,99.6L273.5,99.7L273.9,99.8L274.3,99.9L274.6,100.0L275.0,100.1L275.3,100.2L275.7,100.4L276.1,100.5L276.4,100.7L276.8,100.8L277.2,101.0L277.5,101.2L277.9,101.4L278.2,101.5L278.6,101.7L279.0,101.9L279.3,102.1L279.7,102.4L280.0,102.6L280.4,102.8L280.8,103.0L281.1,103.3L281.5,103.5L281.9,103.8L282.2,104.0L282.6,104.3L282.9,104.5L283.3,104.8L283.7,105.1L284.0,105.4L284.4,105.7L284.8,106.0L285.1,106.3L285.5,106.6L285.8,106.9L286.2,107.2L286.6,107.5L286.9,107.8L287.3,108.2L287.7,108.5L288.0,108.8L288.4,109.2L288.7,109.5L289.1,109.9L289.5,110.2L289.8,110.6L290.2,110.9L290.5,111.3L290.9,111.7L291.3,112.0L291.6,112.4L292.0,112.8L292.4,113.1L292.7,113.5L293.1,113.9L293.4,114.2L293.8,114.6L294.2,115.0L294.5,115.4L294.9,115.7L295.3,116.1L295.6,116.5L296.0,116.9L296.3,117.2L296.7,117.6L297.1,118.0L297.4,118.3L297.8,118.7L298.2,119.0L298.5,119.4L298.9,119.7L299.2,120.1L299.6,120.4L300.0,120.8L300.3,121.1L300.7,121.4L301.0,121.7L301.4,122.0L301.8,122.3L302.1,122.6L302.5,122.9L302.9,123.2L303.2,123.5L303.6,123.7L303.9,124.0L304.3,124.3L304.7,124.5L305.0,124.7L305.4,124.9L305.8,125.1L306.1,125.3L306.5,125.5L306.8,125.7L307.2,125.9L307.6,126.0L307.9,126.2L308.3,126.3L308.7,126.4L309.0,126.5L309.4,126.6L309.7,126.7L310.1,126.8L310.5,126.8L310.8,126.9L311.2,126.9L311.5,126.9L311.9,127.0L312.3,126.9L312.6,126.9L313.0,126.9L313.4,126.9L313.7,126.8L314.1,126.7L314.4,126.7L314.8,126.6L315.2,126.5L315.5,126.4L315.9,126.2L316.3,126.1L316.6,125.9L317.0,125.8L317.3,125.6L317.7,125.4L318.1,125.2L318.4,125.0L318.8,124.8L319.2,124.6L319.5,124.4L319.9,124.1L320.2,123.9L320.6,123.6L321.0,123.4L321.3,123.1L321.7,122.8L322.0,122.5L322.4,122.2L322.8,121.9L323.1,121.6L323.5,121.3L323.9,121.0L324.2,120.7L324.6,120.4L324.9,120.0L325.3,119.7L325.7,119.4L326.0,119.0L326.4,118.7L326.8,118.3L327.1,118.0L327.5,117.6L327.8,117.3L328.2,116.9L328.6,116.5L328.9,116.2L329.3,115.8L329.7,115.5L330.0,115.1L330.4,114.7L330.7,114.4L331.1,114.0L331.5,113.7L331.8,113.3L332.2,112.9L332.5,112.6L332.9,112.2L333.3,111.9L333.6,111.5L334.0,111.2L334.4,110.8L334.7,110.5L335.1,110.1L335.4,109.8L335.8,109.5L336.2,109.1L336.5,108.8L336.9,108.5L337.3,108.2L337.6,107.8L338.0,107.5L338.3,107.2L338.7,106.9L339.1,106.6L339.4,106.3L339.8,106.0L340.2,105.7L340.5,105.5L340.9,105.2L341.2,104.9L341.6,104.6L342.0,104.4L342.3,104.1L342.7,103.9L343.0,103.6L343.4,103.4L343.8,103.2L344.1,102.9L344.5,102.7L344.9,102.5L345.2,102.3L345.6,102.1L345.9,101.9L346.3,101.7L346.7,101.5L347.0,101.3L347.4,101.1L347.8,101.0L348.1,100.8L348.5,100.7L348.8,100.5L349.2,100.4L349.6,100.2L349.9,100.1L350.3,100.0L350.7,99.9L351.0,99.8L351.4,99.7L351.7,99.6L352.1,99.5L352.5,99.4L352.8,99.3L353.2,99.3L353.5,99.2L353.9,99.1L354.3,99.1L354.6,99.1L355.0,99.0L355.4,99.0L355.7,99.0L356.1,99.0L356.4,99.0L356.8,99.0L357.2,99.0L357.5,99.0L357.9,99.0L358.3,99.0L358.6,99.1L359.0,99.1L359.3,99.2L359.7,99.2L360.1,99.3L360.4,99.4L360.8,99.4L361.1,99.5L361.5,99.6L361.9,99.7L362.2,99.8L362.6,100.0L363.0,100.1L363.3,100.2L363.7,100.3L364.0,100.5L364.4,100.6L364.8,100.8L365.1,100.9L365.5,101.1L365.9,101.3L366.2,101.5L366.6,101.7L366.9,101.9L367.3,102.1L367.7,102.3L368.0,102.5L368.4,102.7L368.8,102.9L369.1,103.2L369.5,103.4L369.8,103.7L370.2,103.9L370.6,104.2L370.9,104.4L371.3,104.7L371.6,105.0L372.0,105.3L372.4,105.6L372.7,105.9L373.1,106.2L373.5,106.5L373.8,106.8L374.2,107.1L374.5,107.4L374.9,107.7L375.3,108.1L375.6,108.4L376.0,108.7L376.4,109.1L376.7,109.4L377.1,109.8L377.4,110.1L377.8,110.5L378.2,110.8L378.5,111.2L378.9,111.5L379.3,111.9L379.6,112.3L380.0,112.6L380.3,113.0L380.7,113.4L381.1,113.7L381.4,114.1L381.8,114.5L382.1,114.9L382.5,115.2L382.9,115.6L383.2,116.0L383.6,116.4L384.0,116.7L384.3,117.1L384.7,117.5L385.0,117.8L385.4,118.2L385.8,118.6L386.1,118.9L386.5,119.3L386.9,119.6L387.2,120.0L387.6,120.3L387.9,120.6L388.3,121.0L388.7,121.3L389.0,121.6L389.4,121.9L389.8,122.2L390.1,122.5L390.5,122.8L390.8,123.1L391.2,123.4L391.6,123.7L391.9,123.9L392.3,124.2L392.6,124.4L393.0,124.6L393.4,124.9L393.7,125.1L394.1,125.3L394.5,125.5L394.8,125.7L395.2,125.8L395.5,126.0L395.9,126.1L396.3,126.3L396.6,126.4L397.0,126.5L397.4,126.6L397.7,126.7L398.1,126.8L398.4,126.8L398.8,126.9L399.2,126.9L399.5,126.9L399.9,127.0L400.3,127.0L400.6,126.9L401.0,126.9L401.3,126.9L401.7,126.8L402.1,126.8L402.4,126.7L402.8,126.6L403.1,126.5L403.5,126.4L403.9,126.3L404.2,126.1L404.6,126.0L405.0,125.8L405.3,125.7L405.7,125.5L406.0,125.3L406.4,125.1L406.8,124.9L407.1,124.7L407.5,124.5L407.9,124.2L408.2,124.0L408.6,123.7L408.9,123.5L409.3,123.2L409.7,122.9L410.0,122.6L410.4,122.3L410.8,122.0L411.1,121.7L411.5,121.4L411.8,121.1L412.2,120.8L412.6,120.5L412.9,120.1L413.3,119.8L413.6,119.5L414.0,119.1L414.4,118.8L414.7,118.4L415.1,118.1L415.5,117.7L415.8,117.4L416.2,117.0L416.5,116.7L416.9,116.3L417.3,115.9L417.6,115.6L418.0,115.2L418.4,114.9L418.7,114.5L419.1,114.1L419.4,113.8L419.8,113.4L420.2,113.1L420.5,112.7L420.9,112.3L421.3,112.0L421.6,111.6L422.0,111.3L422.3,110.9L422.7,110.6L423.1,110.3L423.4,109.9L423.8,109.6L424.1,109.2L424.5,108.9L424.9,108.6L425.2,108.3L425.6,107.9L426.0,107.6L426.3,107.3L426.7,107.0L427.0,106.7L427.4,106.4L427.8,106.1L428.1,105.8L428.5,105.5L428.9,105.3L429.2,105.0L429.6,104.7L429.9,104.5L430.3,104.2L430.7,104.0L431.0,103.7L431.4,103.5L431.8,103.2L432.1,103.0L432.5,102.8L432.8,102.6L433.2,102.3L433.6,102.1L433.9,101.9L434.3,101.7L434.6,101.6L435.0,101.4L435.4,101.2L435.7,101.0L436.1,100.9L436.5,100.7L436.8,100.6L437.2,100.4L437.5,100.3L437.9,100.1L438.3,100.0L438.6,99.9L439.0,99.8L439.4,99.7L439.7,99.6L440.1,99.5L440.4,99.4L440.8,99.3L441.2,99.3L441.5,99.2L441.9,99.2L442.3,99.1L442.6,99.1L443.0,99.0L443.3,99.0L443.7,99.0L444.1,99.0L444.4,99.0L444.8,99.0L445.1,99.0L445.5,99.0" stroke="#E69F00" stroke-opacity="0.72" stroke-width="1.55" stroke-dasharray="4.7 2.6" fill="none"/><path d="M269.6,130.8L269.9,130.6L270.3,130.3L270.6,130.1L271.0,129.9L271.4,129.7L271.7,129.5L272.1,129.3L272.4,129.2L272.8,129.0L273.2,128.9L273.5,128.7L273.9,128.6L274.3,128.5L274.6,128.4L275.0,128.3L275.3,128.2L275.7,128.1L276.1,128.0L276.4,127.9L276.8,127.9L277.2,127.8L277.5,127.8L277.9,127.8L278.2,127.7L278.6,127.7L279.0,127.7L279.3,127.7L279.7,127.7L280.0,127.7L280.4,127.8L280.8,127.8L281.1,127.8L281.5,127.9L281.9,127.9L282.2,128.0L282.6,128.1L282.9,128.1L283.3,128.2L283.7,128.3L284.0,128.4L284.4,128.5L284.8,128.6L285.1,128.7L285.5,128.8L285.8,129.0L286.2,129.1L286.6,129.2L286.9,129.4L287.3,129.5L287.7,129.6L288.0,129.8L288.4,129.9L288.7,130.1L289.1,130.3L289.5,130.4L289.8,130.6L290.2,130.8L290.5,131.0L290.9,131.1L291.3,131.3L291.6,131.5L292.0,131.7L292.4,131.9L292.7,132.1L293.1,132.3L293.4,132.4L293.8,132.6L294.2,132.8L294.5,133.0L294.9,133.2L295.3,133.4L295.6,133.6L296.0,133.8L296.3,134.0L296.7,134.2L297.1,134.4L297.4,134.5L297.8,134.7L298.2,134.9L298.5,135.1L298.9,135.3L299.2,135.4L299.6,135.6L300.0,135.7L300.3,135.9L300.7,136.1L301.0,136.2L301.4,136.3L301.8,136.5L302.1,136.6L302.5,136.7L302.9,136.8L303.2,136.9L303.6,137.1L303.9,137.1L304.3,137.2L304.7,137.3L305.0,137.4L305.4,137.4L305.8,137.5L306.1,137.5L306.5,137.6L306.8,137.6L307.2,137.6L307.6,137.6L307.9,137.6L308.3,137.6L308.7,137.6L309.0,137.5L309.4,137.5L309.7,137.4L310.1,137.4L310.5,137.3L310.8,137.2L311.2,137.1L311.5,137.0L311.9,136.9L312.3,136.7L312.6,136.6L313.0,136.4L313.4,136.3L313.7,136.1L314.1,135.9L314.4,135.7L314.8,135.5L315.2,135.3L315.5,135.1L315.9,134.9L316.3,134.7L316.6,134.4L317.0,134.2L317.3,133.9L317.7,133.6L318.1,133.4L318.4,133.1L318.8,132.8L319.2,132.5L319.5,132.2L319.9,131.9L320.2,131.6L320.6,131.3L321.0,131.0L321.3,130.7L321.7,130.3L321.9,130.4L322.0,130.3L322.4,130.3L322.8,130.3L323.1,130.2L323.5,130.2L323.9,130.2L324.2,130.1L324.6,130.0L324.9,130.0L325.3,129.9L325.7,129.9L326.0,129.8L326.4,129.7L326.8,129.7L327.1,129.6L327.5,129.5L327.8,129.5L328.2,129.4L328.6,129.3L328.9,129.2L329.3,129.2L329.7,129.1L330.0,129.0L330.4,128.9L330.7,128.9L331.1,128.8L331.5,128.7L331.8,128.6L332.2,128.6L332.5,128.5L332.9,128.4L333.3,128.4L333.6,128.3L334.0,128.3L334.4,128.2L334.7,128.2L335.1,128.1L335.4,128.1L335.8,128.0L336.2,128.0L336.5,128.0L336.9,127.9L337.3,127.9L337.6,127.9L338.0,127.9L338.3,127.9L338.7,127.9L339.1,127.9L339.4,127.9L339.8,127.9L340.2,127.9L340.5,127.9L340.9,127.9L341.2,127.9L341.6,128.0L342.0,128.0L342.3,128.1L342.7,128.1L343.0,128.1L343.4,128.2L343.8,128.3L344.1,128.3L344.5,128.4L344.9,128.5L345.2,128.5L345.6,128.6L345.9,128.7L346.3,128.8L346.7,128.9L347.0,129.0L347.4,129.1L347.8,129.2L348.1,129.4L348.5,129.5L348.8,129.6L349.2,129.7L349.6,129.9L349.9,130.0L350.3,130.2L350.7,130.3L351.0,130.5L351.4,130.6L351.7,130.8L352.1,130.9L352.5,131.1L352.8,131.3L353.2,131.4L353.5,131.6L353.9,131.8L354.3,132.0L354.6,132.2L355.0,132.4L355.4,132.5L355.5,132.6L355.7,132.3L356.1,132.0L356.4,131.7L356.8,131.4L357.2,131.2L357.5,130.9L357.9,130.7L358.3,130.4L358.6,130.2L359.0,130.0L359.3,129.8L359.7,129.6L360.1,129.4L360.4,129.2L360.8,129.1L361.1,128.9L361.5,128.8L361.9,128.6L362.2,128.5L362.6,128.4L363.0,128.3L363.3,128.2L363.7,128.1L364.0,128.0L364.4,128.0L364.8,127.9L365.1,127.9L365.5,127.8L365.9,127.8L366.2,127.7L366.6,127.7L366.9,127.7L367.3,127.7L367.7,127.7L368.0,127.7L368.4,127.8L368.8,127.8L369.1,127.8L369.5,127.9L369.8,127.9L370.2,128.0L370.6,128.0L370.9,128.1L371.3,128.2L371.6,128.3L372.0,128.4L372.4,128.5L372.7,128.6L373.1,128.7L373.5,128.8L373.8,128.9L374.2,129.0L374.5,129.2L374.9,129.3L375.3,129.4L375.6,129.6L376.0,129.7L376.4,129.9L376.7,130.1L377.1,130.2L377.4,130.4L377.8,130.5L378.2,130.7L378.5,130.9L378.9,131.1L379.3,131.3L379.6,131.4L380.0,131.6L380.3,131.8L380.7,132.0L381.1,132.2L381.4,132.4L381.8,132.6L382.1,132.8L382.5,133.0L382.9,133.2L383.2,133.3L383.6,133.5L384.0,133.7L384.3,133.9L384.7,134.1L385.0,134.3L385.4,134.5L385.8,134.7L386.1,134.8L386.5,135.0L386.9,135.2L387.2,135.4L387.6,135.5L387.9,135.7L388.3,135.9L388.7,136.0L389.0,136.2L389.4,136.3L389.8,136.4L390.1,136.6L390.5,136.7L390.8,136.8L391.2,136.9L391.6,137.0L391.9,137.1L392.3,137.2L392.6,137.3L393.0,137.4L393.4,137.4L393.7,137.5L394.1,137.5L394.5,137.6L394.8,137.6L395.2,137.6L395.5,137.6L395.9,137.6L396.3,137.6L396.6,137.6L397.0,137.5L397.4,137.5L397.7,137.4L398.1,137.4L398.4,137.3L398.8,137.2L399.2,137.1L399.5,137.0L399.9,136.9L400.3,136.8L400.6,136.6L401.0,136.5L401.3,136.3L401.7,136.2L402.1,136.0L402.4,135.8L402.8,135.6L403.1,135.4L403.5,135.2L403.9,135.0L404.2,134.7L404.6,134.5L405.0,134.2L405.3,134.0L405.7,133.7L406.0,133.5L406.4,133.2L406.8,132.9L407.1,132.6L407.5,132.3L407.9,132.0L408.2,131.7L408.6,131.4L408.9,131.1L409.3,130.8L409.7,130.4L410.0,130.4L410.4,130.3L410.8,130.3L411.1,130.3L411.5,130.2L411.8,130.2L412.2,130.1L412.6,130.1L412.9,130.0L413.3,130.0L413.6,129.9L414.0,129.8L414.4,129.8L414.7,129.7L415.1,129.6L415.5,129.5L415.8,129.5L416.2,129.4L416.5,129.3L416.9,129.3L417.3,129.2L417.6,129.1L418.0,129.0L418.4,129.0L418.7,128.9L419.1,128.8L419.4,128.7L419.8,128.7L420.2,128.6L420.5,128.5L420.9,128.5L421.3,128.4L421.6,128.4L422.0,128.3L422.3,128.2L422.7,128.2L423.1,128.1L423.4,128.1L423.8,128.1L424.1,128.0L424.5,128.0L424.9,128.0L425.2,127.9L425.6,127.9L426.0,127.9L426.3,127.9L426.7,127.9L427.0,127.9L427.4,127.9L427.8,127.9L428.1,127.9L428.5,127.9L428.9,127.9L429.2,127.9L429.6,128.0L429.9,128.0L430.3,128.0L430.7,128.1L431.0,128.1L431.4,128.2L431.8,128.2L432.1,128.3L432.5,128.4L432.8,128.4L433.2,128.5L433.6,128.6L433.9,128.7L434.3,128.8L434.6,128.9L435.0,129.0L435.4,129.1L435.7,129.2L436.1,129.3L436.5,129.4L436.8,129.6L437.2,129.7L437.5,129.8L437.9,130.0L438.3,130.1L438.6,130.3L439.0,130.4L439.4,130.6L439.7,130.7L440.1,130.9L440.4,131.0L440.8,131.2L441.2,131.4L441.5,131.6L441.9,131.7L442.3,131.9L442.6,132.1L443.0,132.3L443.3,132.5L443.6,132.6L443.7,132.4L444.1,132.1L444.4,131.8L444.8,131.5L445.1,131.2L445.5,131.0" stroke="#E69F00" stroke-width="1.55" fill="none" stroke-linejoin="round"/><path d="M269.55,14.42V190.65M269.00,190.10H446.30" stroke="#333333" stroke-width="1.1" fill="none"/><path d="M265.35,190.10H269.55M265.35,160.82H269.55M265.35,131.54H269.55M265.35,102.26H269.55M265.35,72.98H269.55M265.35,43.70H269.55M265.35,14.42H269.55M269.55,190.10V194.10M277.03,190.10V194.10M283.79,190.10V194.10M291.27,190.10V194.10M298.51,190.10V194.10M306.00,190.10V194.10M313.24,190.10V194.10M320.72,190.10V194.10M328.20,190.10V194.10M335.44,190.10V194.10M342.93,190.10V194.10M350.17,190.10V194.10M357.65,190.10V194.10M365.13,190.10V194.10M371.89,190.10V194.10M379.37,190.10V194.10M386.61,190.10V194.10M394.10,190.10V194.10M401.34,190.10V194.10M408.82,190.10V194.10M416.30,190.10V194.10M423.54,190.10V194.10M431.03,190.10V194.10M438.27,190.10V194.10M445.75,190.10V194.10" stroke="#333333" stroke-width="1.0" fill="none"/><text x="262.95" y="193.85" text-anchor="end" class="t">0.0</text><text x="262.95" y="164.57" text-anchor="end" class="t">0.1</text><text x="262.95" y="135.29" text-anchor="end" class="t">0.2</text><text x="262.95" y="106.01" text-anchor="end" class="t">0.3</text><text x="262.95" y="76.73" text-anchor="end" class="t">0.4</text><text x="262.95" y="47.45" text-anchor="end" class="t">0.5</text><text x="262.95" y="18.17" text-anchor="end" class="t">0.6</text><text x="269.55" y="204.10" text-anchor="middle" class="t">Jan</text><text x="291.27" y="204.10" text-anchor="middle" class="t">Apr</text><text x="313.24" y="204.10" text-anchor="middle" class="t">Jul</text><text x="335.44" y="204.10" text-anchor="middle" class="t">Oct</text><text x="357.65" y="204.10" text-anchor="middle" class="t">Jan</text><text x="379.37" y="204.10" text-anchor="middle" class="t">Apr</text><text x="401.34" y="204.10" text-anchor="middle" class="t">Jul</text><text x="423.54" y="204.10" text-anchor="middle" class="t">Oct</text><text x="445.75" y="204.10" text-anchor="middle" class="t">Jan</text><text transform="translate(243.65,102.26) rotate(-90)" text-anchor="middle" class="yl">Outbreak risk</text><rect x="313.60" y="156.00" width="127.00" height="29.30" rx="2.2" fill="#ffffff" fill-opacity="0.8" stroke="#cccccc" stroke-opacity="0.8" stroke-width="0.9"/><path d="M316.90,162.80H337.00" stroke="#E69F00" stroke-opacity="0.72" stroke-width="1.55" stroke-dasharray="4.7 2.6"/><text x="344.20" y="166.10" class="lg">Without vaccination</text><path d="M316.90,176.20H337.00" stroke="#E69F00" stroke-width="1.55"/><text x="344.20" y="179.50" class="lg">Optimised vaccination</text><text x="231.0" y="9.8" class="pl">B.</text><rect x="553.03" y="14.42" width="33.55" height="175.68" fill="#bebebe"/><rect x="641.13" y="14.42" width="33.55" height="175.68" fill="#bebebe"/><path d="M500.6,30.2L501.0,30.3L501.4,30.3L501.7,30.4L502.1,30.5L502.5,30.5L502.8,30.6L503.2,30.7L503.5,30.8L503.9,31.0L504.3,31.1L504.6,31.2L505.0,31.4L505.4,31.5L505.7,31.7L506.1,31.9L506.4,32.1L506.8,32.3L507.2,32.5L507.5,32.7L507.9,33.0L508.3,33.2L508.6,33.5L509.0,33.7L509.3,34.0L509.7,34.3L510.1,34.6L510.4,34.9L510.8,35.2L511.1,35.5L511.5,35.9L511.9,36.2L512.2,36.6L512.6,36.9L513.0,37.3L513.3,37.7L513.7,38.1L514.0,38.5L514.4,38.9L514.8,39.3L515.1,39.7L515.5,40.2L515.9,40.6L516.2,41.1L516.6,41.5L516.9,42.0L517.3,42.5L517.7,43.0L518.0,43.5L518.4,44.0L518.8,44.5L519.1,45.0L519.5,45.5L519.8,46.0L520.2,46.6L520.6,47.1L520.9,47.7L521.3,48.2L521.6,48.8L522.0,49.3L522.4,49.9L522.7,50.5L523.1,51.0L523.5,51.6L523.8,52.2L524.2,52.8L524.5,53.4L524.9,54.0L525.3,54.5L525.6,55.1L526.0,55.7L526.4,56.3L526.7,56.9L527.1,57.5L527.4,58.1L527.8,58.7L528.2,59.2L528.5,59.8L528.9,60.4L529.3,61.0L529.6,61.5L530.0,62.1L530.3,62.6L530.7,63.2L531.1,63.7L531.4,64.3L531.8,64.8L532.1,65.3L532.5,65.8L532.9,66.3L533.2,66.8L533.6,67.3L534.0,67.7L534.3,68.2L534.7,68.6L535.0,69.0L535.4,69.4L535.8,69.8L536.1,70.2L536.5,70.6L536.9,70.9L537.2,71.2L537.6,71.5L537.9,71.8L538.3,72.1L538.7,72.4L539.0,72.6L539.4,72.8L539.8,73.0L540.1,73.2L540.5,73.3L540.8,73.5L541.2,73.6L541.6,73.7L541.9,73.8L542.3,73.8L542.6,73.9L543.0,73.9L543.4,73.9L543.7,73.8L544.1,73.8L544.5,73.7L544.8,73.6L545.2,73.5L545.5,73.4L545.9,73.2L546.3,73.1L546.6,72.9L547.0,72.7L547.4,72.4L547.7,72.2L548.1,71.9L548.4,71.7L548.8,71.4L549.2,71.0L549.5,70.7L549.9,70.4L550.3,70.0L550.6,69.6L551.0,69.2L551.3,68.8L551.7,68.4L552.1,68.0L552.4,67.5L552.8,67.1L553.1,66.6L553.5,66.1L553.9,65.7L554.2,65.2L554.6,64.7L555.0,64.2L555.3,63.6L555.7,63.1L556.0,62.6L556.4,62.0L556.8,61.5L557.1,60.9L557.5,60.4L557.9,59.8L558.2,59.3L558.6,58.7L558.9,58.1L559.3,57.6L559.7,57.0L560.0,56.4L560.4,55.9L560.8,55.3L561.1,54.7L561.5,54.2L561.8,53.6L562.2,53.0L562.6,52.5L562.9,51.9L563.3,51.3L563.6,50.8L564.0,50.2L564.4,49.7L564.7,49.1L565.1,48.6L565.5,48.0L565.8,47.5L566.2,47.0L566.5,46.5L566.9,45.9L567.3,45.4L567.6,44.9L568.0,44.4L568.4,43.9L568.7,43.5L569.1,43.0L569.4,42.5L569.8,42.0L570.2,41.6L570.5,41.1L570.9,40.7L571.3,40.3L571.6,39.8L572.0,39.4L572.3,39.0L572.7,38.6L573.1,38.2L573.4,37.8L573.8,37.5L574.1,37.1L574.5,36.7L574.9,36.4L575.2,36.0L575.6,35.7L576.0,35.4L576.3,35.1L576.7,34.8L577.0,34.5L577.4,34.2L577.8,33.9L578.1,33.7L578.5,33.4L578.9,33.2L579.2,32.9L579.6,32.7L579.9,32.5L580.3,32.3L580.7,32.1L581.0,31.9L581.4,31.7L581.8,31.5L582.1,31.4L582.5,31.2L582.8,31.1L583.2,31.0L583.6,30.8L583.9,30.7L584.3,30.6L584.6,30.5L585.0,30.5L585.4,30.4L585.7,30.3L586.1,30.3L586.5,30.2L586.8,30.2L587.2,30.2L587.5,30.2L587.9,30.2L588.3,30.2L588.6,30.2L589.0,30.3L589.4,30.3L589.7,30.4L590.1,30.4L590.4,30.5L590.8,30.6L591.2,30.7L591.5,30.8L591.9,30.9L592.2,31.0L592.6,31.2L593.0,31.3L593.3,31.5L593.7,31.7L594.1,31.8L594.4,32.0L594.8,32.2L595.1,32.4L595.5,32.6L595.9,32.9L596.2,33.1L596.6,33.4L597.0,33.6L597.3,33.9L597.7,34.2L598.0,34.5L598.4,34.8L598.8,35.1L599.1,35.4L599.5,35.7L599.9,36.1L600.2,36.4L600.6,36.8L600.9,37.2L601.3,37.5L601.7,37.9L602.0,38.3L602.4,38.7L602.7,39.2L603.1,39.6L603.5,40.0L603.8,40.5L604.2,40.9L604.6,41.4L604.9,41.8L605.3,42.3L605.6,42.8L606.0,43.3L606.4,43.8L606.7,44.3L607.1,44.8L607.5,45.3L607.8,45.9L608.2,46.4L608.5,46.9L608.9,47.5L609.3,48.0L609.6,48.6L610.0,49.1L610.4,49.7L610.7,50.3L611.1,50.8L611.4,51.4L611.8,52.0L612.2,52.6L612.5,53.2L612.9,53.8L613.2,54.4L613.6,54.9L614.0,55.5L614.3,56.1L614.7,56.7L615.1,57.3L615.4,57.9L615.8,58.5L616.1,59.1L616.5,59.6L616.9,60.2L617.2,60.8L617.6,61.3L618.0,61.9L618.3,62.5L618.7,63.0L619.0,63.6L619.4,64.1L619.8,64.6L620.1,65.1L620.5,65.6L620.9,66.1L621.2,66.6L621.6,67.1L621.9,67.6L622.3,68.0L622.7,68.5L623.0,68.9L623.4,69.3L623.7,69.7L624.1,70.1L624.5,70.4L624.8,70.8L625.2,71.1L625.6,71.4L625.9,71.7L626.3,72.0L626.6,72.3L627.0,72.5L627.4,72.7L627.7,72.9L628.1,73.1L628.5,73.3L628.8,73.4L629.2,73.6L629.5,73.7L629.9,73.7L630.3,73.8L630.6,73.8L631.0,73.9L631.4,73.9L631.7,73.8L632.1,73.8L632.4,73.7L632.8,73.7L633.2,73.6L633.5,73.4L633.9,73.3L634.2,73.1L634.6,72.9L635.0,72.7L635.3,72.5L635.7,72.3L636.1,72.0L636.4,71.8L636.8,71.5L637.1,71.2L637.5,70.8L637.9,70.5L638.2,70.1L638.6,69.8L639.0,69.4L639.3,69.0L639.7,68.6L640.0,68.1L640.4,67.7L640.8,67.2L641.1,66.8L641.5,66.3L641.9,65.8L642.2,65.3L642.6,64.8L642.9,64.3L643.3,63.8L643.7,63.3L644.0,62.8L644.4,62.2L644.7,61.7L645.1,61.1L645.5,60.6L645.8,60.0L646.2,59.5L646.6,58.9L646.9,58.3L647.3,57.8L647.6,57.2L648.0,56.6L648.4,56.1L648.7,55.5L649.1,54.9L649.5,54.3L649.8,53.8L650.2,53.2L650.5,52.6L650.9,52.1L651.3,51.5L651.6,51.0L652.0,50.4L652.4,49.9L652.7,49.3L653.1,48.8L653.4,48.2L653.8,47.7L654.2,47.2L654.5,46.6L654.9,46.1L655.2,45.6L655.6,45.1L656.0,44.6L656.3,44.1L656.7,43.6L657.1,43.1L657.4,42.7L657.8,42.2L658.1,41.7L658.5,41.3L658.9,40.8L659.2,40.4L659.6,40.0L660.0,39.6L660.3,39.1L660.7,38.7L661.0,38.3L661.4,38.0L661.8,37.6L662.1,37.2L662.5,36.9L662.9,36.5L663.2,36.2L663.6,35.8L663.9,35.5L664.3,35.2L664.7,34.9L665.0,34.6L665.4,34.3L665.7,34.0L666.1,33.7L666.5,33.5L666.8,33.2L667.2,33.0L667.6,32.8L667.9,32.5L668.3,32.3L668.6,32.1L669.0,31.9L669.4,31.8L669.7,31.6L670.1,31.4L670.5,31.3L670.8,31.1L671.2,31.0L671.5,30.9L671.9,30.8L672.3,30.7L672.6,30.6L673.0,30.5L673.4,30.4L673.7,30.3L674.1,30.3L674.4,30.3L674.8,30.2L675.2,30.2L675.5,30.2L675.9,30.2L676.2,30.2L676.6,30.2" stroke="#009E73" stroke-opacity="0.72" stroke-width="1.55" stroke-dasharray="4.7 2.6" fill="none"/><path d="M500.6,80.3L501.0,79.9L501.4,79.5L501.7,79.1L502.1,78.8L502.5,78.5L502.8,78.1L503.2,77.8L503.5,77.6L503.9,77.3L504.3,77.0L504.6,76.8L505.0,76.6L505.4,76.4L505.7,76.2L506.1,76.0L506.4,75.9L506.8,75.7L507.2,75.6L507.5,75.5L507.9,75.4L508.3,75.3L508.6,75.3L509.0,75.2L509.3,75.2L509.7,75.2L510.1,75.1L510.4,75.1L510.8,75.2L511.1,75.2L511.5,75.2L511.9,75.3L512.2,75.3L512.6,75.4L513.0,75.5L513.3,75.6L513.7,75.7L514.0,75.8L514.4,76.0L514.8,76.1L515.1,76.3L515.5,76.4L515.9,76.6L516.2,76.8L516.6,77.0L516.9,77.2L517.3,77.4L517.7,77.6L518.0,77.9L518.4,78.1L518.8,78.3L519.1,78.6L519.5,78.9L519.8,79.1L520.2,79.4L520.6,79.7L520.9,80.0L521.3,80.3L521.6,80.5L522.0,80.8L522.4,81.2L522.7,81.5L523.1,81.8L523.5,82.1L523.8,82.4L524.2,82.7L524.5,83.1L524.9,83.4L525.3,83.7L525.6,84.0L526.0,84.4L526.4,84.7L526.7,85.0L527.1,85.3L527.4,85.7L527.8,86.0L528.2,86.3L528.5,86.6L528.9,86.9L529.3,87.2L529.6,87.5L530.0,87.8L530.3,88.1L530.7,88.4L531.1,88.7L531.4,88.9L531.8,89.2L532.1,89.5L532.5,89.7L532.9,89.9L533.2,90.1L533.6,90.4L534.0,90.6L534.3,90.7L534.7,90.9L535.0,91.1L535.4,91.2L535.8,91.4L536.1,91.5L536.5,91.6L536.9,91.7L537.2,91.7L537.6,91.8L537.9,91.8L538.3,91.9L538.7,91.9L539.0,91.9L539.4,91.8L539.8,91.8L540.1,91.7L540.5,91.6L540.8,91.5L541.2,91.4L541.6,91.3L541.9,91.1L542.3,91.0L542.6,90.8L543.0,90.6L543.4,90.4L543.7,90.1L544.1,89.9L544.5,89.6L544.8,89.3L545.2,89.0L545.5,88.7L545.9,88.3L546.3,88.0L546.6,87.6L547.0,87.2L547.4,86.8L547.7,86.4L548.1,86.0L548.4,85.5L548.8,85.1L549.2,84.6L549.5,84.1L549.9,83.7L550.3,83.2L550.6,82.7L551.0,82.2L551.3,81.6L551.7,81.1L552.1,80.6L552.4,80.0L552.8,79.5L553.0,79.5L553.1,79.5L553.5,79.5L553.9,79.4L554.2,79.4L554.6,79.3L555.0,79.2L555.3,79.1L555.7,79.0L556.0,78.9L556.4,78.8L556.8,78.7L557.1,78.6L557.5,78.5L557.9,78.4L558.2,78.3L558.6,78.1L558.9,78.0L559.3,77.9L559.7,77.8L560.0,77.7L560.4,77.5L560.8,77.4L561.1,77.3L561.5,77.2L561.8,77.0L562.2,76.9L562.6,76.8L562.9,76.7L563.3,76.6L563.6,76.5L564.0,76.4L564.4,76.3L564.7,76.2L565.1,76.1L565.5,76.0L565.8,75.9L566.2,75.8L566.5,75.7L566.9,75.7L567.3,75.6L567.6,75.6L568.0,75.5L568.4,75.5L568.7,75.4L569.1,75.4L569.4,75.4L569.8,75.4L570.2,75.4L570.5,75.4L570.9,75.4L571.3,75.4L571.6,75.4L572.0,75.5L572.3,75.5L572.7,75.6L573.1,75.6L573.4,75.7L573.8,75.8L574.1,75.9L574.5,75.9L574.9,76.0L575.2,76.1L575.6,76.3L576.0,76.4L576.3,76.5L576.7,76.7L577.0,76.8L577.4,77.0L577.8,77.1L578.1,77.3L578.5,77.5L578.9,77.7L579.2,77.9L579.6,78.1L579.9,78.3L580.3,78.5L580.7,78.7L581.0,79.0L581.4,79.2L581.8,79.5L582.1,79.7L582.5,80.0L582.8,80.2L583.2,80.5L583.6,80.8L583.9,81.1L584.3,81.4L584.6,81.7L585.0,82.0L585.4,82.3L585.7,82.6L586.1,82.9L586.5,83.2L586.6,83.3L586.8,82.8L587.2,82.3L587.5,81.8L587.9,81.3L588.3,80.9L588.6,80.5L589.0,80.0L589.4,79.6L589.7,79.3L590.1,78.9L590.4,78.6L590.8,78.2L591.2,77.9L591.5,77.6L591.9,77.4L592.2,77.1L592.6,76.9L593.0,76.7L593.3,76.5L593.7,76.3L594.1,76.1L594.4,75.9L594.8,75.8L595.1,75.7L595.5,75.5L595.9,75.4L596.2,75.4L596.6,75.3L597.0,75.2L597.3,75.2L597.7,75.2L598.0,75.1L598.4,75.1L598.8,75.2L599.1,75.2L599.5,75.2L599.9,75.3L600.2,75.3L600.6,75.4L600.9,75.5L601.3,75.6L601.7,75.7L602.0,75.8L602.4,75.9L602.7,76.1L603.1,76.2L603.5,76.4L603.8,76.6L604.2,76.7L604.6,76.9L604.9,77.1L605.3,77.3L605.6,77.6L606.0,77.8L606.4,78.0L606.7,78.3L607.1,78.5L607.5,78.8L607.8,79.0L608.2,79.3L608.5,79.6L608.9,79.9L609.3,80.2L609.6,80.4L610.0,80.7L610.4,81.1L610.7,81.4L611.1,81.7L611.4,82.0L611.8,82.3L612.2,82.6L612.5,83.0L612.9,83.3L613.2,83.6L613.6,83.9L614.0,84.3L614.3,84.6L614.7,84.9L615.1,85.2L615.4,85.6L615.8,85.9L616.1,86.2L616.5,86.5L616.9,86.8L617.2,87.1L617.6,87.4L618.0,87.7L618.3,88.0L618.7,88.3L619.0,88.6L619.4,88.9L619.8,89.1L620.1,89.4L620.5,89.6L620.9,89.9L621.2,90.1L621.6,90.3L621.9,90.5L622.3,90.7L622.7,90.9L623.0,91.0L623.4,91.2L623.7,91.3L624.1,91.4L624.5,91.5L624.8,91.6L625.2,91.7L625.6,91.8L625.9,91.8L626.3,91.9L626.6,91.9L627.0,91.9L627.4,91.8L627.7,91.8L628.1,91.7L628.5,91.7L628.8,91.6L629.2,91.5L629.5,91.3L629.9,91.2L630.3,91.0L630.6,90.9L631.0,90.7L631.4,90.4L631.7,90.2L632.1,90.0L632.4,89.7L632.8,89.4L633.2,89.1L633.5,88.8L633.9,88.4L634.2,88.1L634.6,87.7L635.0,87.3L635.3,86.9L635.7,86.5L636.1,86.1L636.4,85.7L636.8,85.2L637.1,84.8L637.5,84.3L637.9,83.8L638.2,83.3L638.6,82.8L639.0,82.3L639.3,81.8L639.7,81.3L640.0,80.8L640.4,80.2L640.8,79.7L641.1,79.5L641.5,79.5L641.9,79.4L642.2,79.4L642.6,79.3L642.9,79.2L643.3,79.1L643.7,79.1L644.0,79.0L644.4,78.9L644.7,78.8L645.1,78.7L645.5,78.5L645.8,78.4L646.2,78.3L646.6,78.2L646.9,78.1L647.3,77.9L647.6,77.8L648.0,77.7L648.4,77.6L648.7,77.4L649.1,77.3L649.5,77.2L649.8,77.1L650.2,77.0L650.5,76.8L650.9,76.7L651.3,76.6L651.6,76.5L652.0,76.4L652.4,76.3L652.7,76.2L653.1,76.1L653.4,76.0L653.8,75.9L654.2,75.8L654.5,75.8L654.9,75.7L655.2,75.6L655.6,75.6L656.0,75.5L656.3,75.5L656.7,75.5L657.1,75.4L657.4,75.4L657.8,75.4L658.1,75.4L658.5,75.4L658.9,75.4L659.2,75.4L659.6,75.4L660.0,75.5L660.3,75.5L660.7,75.6L661.0,75.6L661.4,75.7L661.8,75.7L662.1,75.8L662.5,75.9L662.9,76.0L663.2,76.1L663.6,76.2L663.9,76.3L664.3,76.5L664.7,76.6L665.0,76.8L665.4,76.9L665.7,77.1L666.1,77.2L666.5,77.4L666.8,77.6L667.2,77.8L667.6,78.0L667.9,78.2L668.3,78.4L668.6,78.7L669.0,78.9L669.4,79.1L669.7,79.4L670.1,79.6L670.5,79.9L670.8,80.2L671.2,80.4L671.5,80.7L671.9,81.0L672.3,81.3L672.6,81.6L673.0,81.9L673.4,82.2L673.7,82.5L674.1,82.8L674.4,83.1L674.7,83.3L674.8,83.0L675.2,82.5L675.5,82.0L675.9,81.5L676.2,81.0L676.6,80.6" stroke="#009E73" stroke-width="1.55" fill="none" stroke-linejoin="round"/><path d="M500.65,14.42V190.65M500.10,190.10H677.40" stroke="#333333" stroke-width="1.1" fill="none"/><path d="M496.45,190.10H500.65M496.45,160.82H500.65M496.45,131.54H500.65M496.45,102.26H500.65M496.45,72.98H500.65M496.45,43.70H500.65M496.45,14.42H500.65M500.65,190.10V194.10M508.13,190.10V194.10M514.89,190.10V194.10M522.37,190.10V194.10M529.61,190.10V194.10M537.10,190.10V194.10M544.34,190.10V194.10M551.82,190.10V194.10M559.30,190.10V194.10M566.54,190.10V194.10M574.03,190.10V194.10M581.27,190.10V194.10M588.75,190.10V194.10M596.23,190.10V194.10M602.99,190.10V194.10M610.47,190.10V194.10M617.71,190.10V194.10M625.20,190.10V194.10M632.44,190.10V194.10M639.92,190.10V194.10M647.40,190.10V194.10M654.64,190.10V194.10M662.13,190.10V194.10M669.37,190.10V194.10M676.85,190.10V194.10" stroke="#333333" stroke-width="1.0" fill="none"/><text x="494.05" y="193.85" text-anchor="end" class="t">0.0</text><text x="494.05" y="164.57" text-anchor="end" class="t">0.1</text><text x="494.05" y="135.29" text-anchor="end" class="t">0.2</text><text x="494.05" y="106.01" text-anchor="end" class="t">0.3</text><text x="494.05" y="76.73" text-anchor="end" class="t">0.4</text><text x="494.05" y="47.45" text-anchor="end" class="t">0.5</text><text x="494.05" y="18.17" text-anchor="end" class="t">0.6</text><text x="500.65" y="204.10" text-anchor="middle" class="t">Jan</text><text x="522.37" y="204.10" text-anchor="middle" class="t">Apr</text><text x="544.34" y="204.10" text-anchor="middle" class="t">Jul</text><text x="566.54" y="204.10" text-anchor="middle" class="t">Oct</text><text x="588.75" y="204.10" text-anchor="middle" class="t">Jan</text><text x="610.47" y="204.10" text-anchor="middle" class="t">Apr</text><text x="632.44" y="204.10" text-anchor="middle" class="t">Jul</text><text x="654.64" y="204.10" text-anchor="middle" class="t">Oct</text><text x="676.85" y="204.10" text-anchor="middle" class="t">Jan</text><text transform="translate(474.75,102.26) rotate(-90)" text-anchor="middle" class="yl">Outbreak risk</text><rect x="544.70" y="156.00" width="127.00" height="29.30" rx="2.2" fill="#ffffff" fill-opacity="0.8" stroke="#cccccc" stroke-opacity="0.8" stroke-width="0.9"/><path d="M548.00,162.80H568.10" stroke="#009E73" stroke-opacity="0.72" stroke-width="1.55" stroke-dasharray="4.7 2.6"/><text x="575.30" y="166.10" class="lg">Without vaccination</text><path d="M548.00,176.20H568.10" stroke="#009E73" stroke-width="1.55"/><text x="575.30" y="179.50" class="lg">Optimised vaccination</text><text x="462.0" y="9.8" class="pl">C.</text><rect x="104.34" y="231.20" width="18.34" height="176.30" fill="#bebebe"/><rect x="192.44" y="231.20" width="18.34" height="176.30" fill="#bebebe"/><path d="M38.5,249.0L38.8,249.1L39.2,249.1L39.5,249.2L39.9,249.3L40.3,249.4L40.6,249.5L41.0,249.6L41.3,249.7L41.7,249.8L42.1,249.9L42.4,250.1L42.8,250.3L43.2,250.4L43.5,250.6L43.9,250.8L44.2,251.0L44.6,251.2L45.0,251.5L45.3,251.7L45.7,252.0L46.1,252.2L46.4,252.5L46.8,252.8L47.1,253.1L47.5,253.4L47.9,253.7L48.2,254.0L48.6,254.4L48.9,254.7L49.3,255.1L49.7,255.4L50.0,255.8L50.4,256.2L50.8,256.6L51.1,257.0L51.5,257.4L51.8,257.9L52.2,258.3L52.6,258.7L52.9,259.2L53.3,259.7L53.7,260.1L54.0,260.6L54.4,261.1L54.7,261.6L55.1,262.1L55.5,262.6L55.8,263.2L56.2,263.7L56.6,264.2L56.9,264.8L57.3,265.3L57.6,265.9L58.0,266.4L58.4,267.0L58.7,267.6L59.1,268.2L59.4,268.8L59.8,269.4L60.2,269.9L60.5,270.5L60.9,271.1L61.3,271.8L61.6,272.4L62.0,273.0L62.3,273.6L62.7,274.2L63.1,274.8L63.4,275.4L63.8,276.0L64.2,276.7L64.5,277.3L64.9,277.9L65.2,278.5L65.6,279.1L66.0,279.7L66.3,280.3L66.7,280.9L67.1,281.5L67.4,282.1L67.8,282.6L68.1,283.2L68.5,283.8L68.9,284.3L69.2,284.9L69.6,285.4L69.9,285.9L70.3,286.5L70.7,287.0L71.0,287.5L71.4,288.0L71.8,288.4L72.1,288.9L72.5,289.3L72.8,289.8L73.2,290.2L73.6,290.6L73.9,291.0L74.3,291.3L74.7,291.7L75.0,292.0L75.4,292.3L75.7,292.6L76.1,292.9L76.5,293.2L76.8,293.4L77.2,293.6L77.6,293.8L77.9,294.0L78.3,294.2L78.6,294.3L79.0,294.4L79.4,294.5L79.7,294.6L80.1,294.7L80.4,294.7L80.8,294.7L81.2,294.7L81.5,294.7L81.9,294.6L82.3,294.6L82.6,294.5L83.0,294.4L83.3,294.2L83.7,294.1L84.1,293.9L84.4,293.7L84.8,293.5L85.2,293.3L85.5,293.0L85.9,292.7L86.2,292.5L86.6,292.2L87.0,291.8L87.3,291.5L87.7,291.1L88.1,290.8L88.4,290.4L88.8,290.0L89.1,289.6L89.5,289.1L89.9,288.7L90.2,288.2L90.6,287.8L90.9,287.3L91.3,286.8L91.7,286.3L92.0,285.8L92.4,285.3L92.8,284.8L93.1,284.2L93.5,283.7L93.8,283.1L94.2,282.6L94.6,282.0L94.9,281.4L95.3,280.9L95.7,280.3L96.0,279.7L96.4,279.1L96.7,278.5L97.1,278.0L97.5,277.4L97.8,276.8L98.2,276.2L98.6,275.6L98.9,275.0L99.3,274.4L99.6,273.8L100.0,273.2L100.4,272.6L100.7,272.0L101.1,271.4L101.4,270.9L101.8,270.3L102.2,269.7L102.5,269.1L102.9,268.6L103.3,268.0L103.6,267.4L104.0,266.9L104.3,266.3L104.7,265.8L105.1,265.3L105.4,264.7L105.8,264.2L106.2,263.7L106.5,263.2L106.9,262.7L107.2,262.2L107.6,261.7L108.0,261.2L108.3,260.7L108.7,260.2L109.1,259.8L109.4,259.3L109.8,258.9L110.1,258.4L110.5,258.0L110.9,257.6L111.2,257.2L111.6,256.8L111.9,256.4L112.3,256.0L112.7,255.6L113.0,255.3L113.4,254.9L113.8,254.6L114.1,254.2L114.5,253.9L114.8,253.6L115.2,253.3L115.6,253.0L115.9,252.7L116.3,252.4L116.7,252.2L117.0,251.9L117.4,251.7L117.7,251.4L118.1,251.2L118.5,251.0L118.8,250.8L119.2,250.6L119.6,250.4L119.9,250.3L120.3,250.1L120.6,249.9L121.0,249.8L121.4,249.7L121.7,249.6L122.1,249.5L122.4,249.4L122.8,249.3L123.2,249.2L123.5,249.1L123.9,249.1L124.3,249.0L124.6,249.0L125.0,249.0L125.3,249.0L125.7,249.0L126.1,249.0L126.4,249.0L126.8,249.1L127.2,249.1L127.5,249.2L127.9,249.2L128.2,249.3L128.6,249.4L129.0,249.5L129.3,249.6L129.7,249.8L130.0,249.9L130.4,250.0L130.8,250.2L131.1,250.4L131.5,250.6L131.9,250.8L132.2,251.0L132.6,251.2L132.9,251.4L133.3,251.6L133.7,251.9L134.0,252.1L134.4,252.4L134.8,252.7L135.1,253.0L135.5,253.3L135.8,253.6L136.2,253.9L136.6,254.3L136.9,254.6L137.3,255.0L137.7,255.3L138.0,255.7L138.4,256.1L138.7,256.5L139.1,256.9L139.5,257.3L139.8,257.7L140.2,258.2L140.5,258.6L140.9,259.0L141.3,259.5L141.6,260.0L142.0,260.5L142.4,260.9L142.7,261.4L143.1,262.0L143.4,262.5L143.8,263.0L144.2,263.5L144.5,264.0L144.9,264.6L145.3,265.1L145.6,265.7L146.0,266.3L146.3,266.8L146.7,267.4L147.1,268.0L147.4,268.6L147.8,269.2L148.2,269.7L148.5,270.3L148.9,270.9L149.2,271.6L149.6,272.2L150.0,272.8L150.3,273.4L150.7,274.0L151.0,274.6L151.4,275.2L151.8,275.8L152.1,276.4L152.5,277.1L152.9,277.7L153.2,278.3L153.6,278.9L153.9,279.5L154.3,280.1L154.7,280.7L155.0,281.3L155.4,281.9L155.8,282.4L156.1,283.0L156.5,283.6L156.8,284.1L157.2,284.7L157.6,285.2L157.9,285.8L158.3,286.3L158.7,286.8L159.0,287.3L159.4,287.8L159.7,288.3L160.1,288.7L160.5,289.2L160.8,289.6L161.2,290.0L161.5,290.4L161.9,290.8L162.3,291.2L162.6,291.6L163.0,291.9L163.4,292.2L163.7,292.5L164.1,292.8L164.4,293.1L164.8,293.3L165.2,293.6L165.5,293.8L165.9,294.0L166.3,294.1L166.6,294.3L167.0,294.4L167.3,294.5L167.7,294.6L168.1,294.7L168.4,294.7L168.8,294.7L169.2,294.7L169.5,294.7L169.9,294.7L170.2,294.6L170.6,294.5L171.0,294.4L171.3,294.3L171.7,294.1L172.0,294.0L172.4,293.8L172.8,293.6L173.1,293.3L173.5,293.1L173.9,292.8L174.2,292.6L174.6,292.3L174.9,291.9L175.3,291.6L175.7,291.3L176.0,290.9L176.4,290.5L176.8,290.1L177.1,289.7L177.5,289.3L177.8,288.9L178.2,288.4L178.6,287.9L178.9,287.5L179.3,287.0L179.7,286.5L180.0,286.0L180.4,285.5L180.7,284.9L181.1,284.4L181.5,283.9L181.8,283.3L182.2,282.8L182.5,282.2L182.9,281.6L183.3,281.1L183.6,280.5L184.0,279.9L184.4,279.3L184.7,278.7L185.1,278.2L185.4,277.6L185.8,277.0L186.2,276.4L186.5,275.8L186.9,275.2L187.3,274.6L187.6,274.0L188.0,273.4L188.3,272.8L188.7,272.2L189.1,271.6L189.4,271.1L189.8,270.5L190.2,269.9L190.5,269.3L190.9,268.8L191.2,268.2L191.6,267.6L192.0,267.1L192.3,266.5L192.7,266.0L193.0,265.4L193.4,264.9L193.8,264.4L194.1,263.9L194.5,263.3L194.9,262.8L195.2,262.3L195.6,261.8L195.9,261.3L196.3,260.9L196.7,260.4L197.0,259.9L197.4,259.5L197.8,259.0L198.1,258.6L198.5,258.2L198.8,257.7L199.2,257.3L199.6,256.9L199.9,256.5L200.3,256.1L200.7,255.8L201.0,255.4L201.4,255.0L201.7,254.7L202.1,254.4L202.5,254.0L202.8,253.7L203.2,253.4L203.5,253.1L203.9,252.8L204.3,252.5L204.6,252.3L205.0,252.0L205.4,251.8L205.7,251.5L206.1,251.3L206.4,251.1L206.8,250.9L207.2,250.7L207.5,250.5L207.9,250.3L208.3,250.1L208.6,250.0L209.0,249.9L209.3,249.7L209.7,249.6L210.1,249.5L210.4,249.4L210.8,249.3L211.2,249.2L211.5,249.2L211.9,249.1L212.2,249.1L212.6,249.0L213.0,249.0L213.3,249.0L213.7,249.0L214.0,249.0L214.4,249.0" stroke="#000000" stroke-opacity="0.72" stroke-width="1.55" stroke-dasharray="4.7 2.6" fill="none"/><path d="M38.5,284.3L38.8,284.1L39.2,284.0L39.5,283.8L39.9,283.7L40.3,283.6L40.6,283.5L41.0,283.4L41.3,283.3L41.7,283.3L42.1,283.2L42.4,283.2L42.8,283.1L43.2,283.1L43.5,283.1L43.9,283.1L44.2,283.1L44.6,283.2L45.0,283.2L45.3,283.2L45.7,283.3L46.1,283.4L46.4,283.5L46.8,283.6L47.1,283.7L47.5,283.8L47.9,283.9L48.2,284.0L48.6,284.2L48.9,284.3L49.3,284.5L49.7,284.7L50.0,284.9L50.4,285.1L50.8,285.3L51.1,285.5L51.5,285.7L51.8,286.0L52.2,286.2L52.6,286.5L52.9,286.8L53.3,287.0L53.7,287.3L54.0,287.6L54.4,287.9L54.7,288.2L55.1,288.5L55.5,288.9L55.8,289.2L56.2,289.5L56.6,289.9L56.9,290.3L57.3,290.6L57.6,291.0L58.0,291.4L58.4,291.7L58.7,292.1L59.1,292.5L59.4,292.9L59.8,293.3L60.2,293.7L60.5,294.1L60.9,294.5L61.3,295.0L61.6,295.4L62.0,295.8L62.3,296.2L62.7,296.6L63.1,297.1L63.4,297.5L63.8,297.9L64.2,298.3L64.5,298.8L64.9,299.2L65.2,299.6L65.6,300.0L66.0,300.4L66.3,300.8L66.7,301.2L67.1,301.6L67.4,302.0L67.8,302.4L68.1,302.8L68.5,303.2L68.9,303.6L69.2,303.9L69.6,304.3L69.9,304.6L70.3,304.9L70.7,305.3L71.0,305.6L71.4,305.9L71.8,306.2L72.1,306.4L72.5,306.7L72.8,306.9L73.2,307.2L73.6,307.4L73.9,307.6L74.3,307.8L74.7,307.9L75.0,308.1L75.4,308.2L75.7,308.3L76.1,308.4L76.5,308.5L76.8,308.6L77.2,308.6L77.6,308.7L77.9,308.7L78.3,308.7L78.6,308.6L79.0,308.6L79.4,308.5L79.7,308.4L80.1,308.3L80.4,308.2L80.8,308.0L81.2,307.8L81.5,307.6L81.9,307.4L82.3,307.2L82.6,306.9L83.0,306.6L83.3,306.4L83.7,306.0L84.1,305.7L84.4,305.4L84.8,305.0L85.2,304.6L85.5,304.2L85.9,303.8L86.2,303.3L86.6,302.9L87.0,302.4L87.3,301.9L87.7,301.4L88.1,300.9L88.4,300.4L88.8,299.8L89.1,299.3L89.5,298.7L89.9,298.1L90.2,297.5L90.6,296.9L90.9,296.3L91.3,295.7L91.7,295.1L92.0,294.4L92.4,293.8L92.8,293.1L93.1,292.5L93.5,291.8L93.8,291.2L94.2,290.5L94.6,289.8L94.9,289.1L95.3,288.5L95.7,287.8L96.0,287.1L96.4,286.4L96.7,285.7L97.1,285.0L97.5,284.4L97.8,283.7L98.2,283.0L98.6,282.3L98.9,281.7L99.3,281.0L99.6,280.3L100.0,279.7L100.4,279.0L100.7,278.3L101.1,277.7L101.4,277.1L101.8,276.4L102.2,275.8L102.5,275.2L102.9,274.5L103.3,273.9L103.6,273.3L104.0,272.7L104.3,272.5L104.7,272.4L105.1,272.4L105.4,272.5L105.8,272.5L106.2,272.5L106.5,272.6L106.9,272.7L107.2,272.8L107.6,272.9L108.0,273.1L108.3,273.2L108.7,273.4L109.1,273.6L109.4,273.8L109.8,274.0L110.1,274.3L110.5,274.5L110.9,274.8L111.2,275.1L111.6,275.4L111.9,275.7L112.3,276.1L112.7,276.4L113.0,276.7L113.4,277.1L113.8,277.5L114.1,277.9L114.5,278.2L114.8,278.6L115.2,279.0L115.6,279.4L115.9,279.9L116.3,280.3L116.7,280.7L117.0,281.1L117.4,281.5L117.7,281.9L118.1,282.4L118.5,282.8L118.8,283.2L119.2,283.6L119.6,284.0L119.9,284.4L120.3,284.7L120.6,285.1L121.0,285.5L121.4,285.8L121.7,286.1L122.1,286.4L122.4,286.7L122.6,286.8L122.8,286.5L123.2,286.3L123.5,286.0L123.9,285.7L124.3,285.5L124.6,285.3L125.0,285.1L125.3,284.9L125.7,284.7L126.1,284.5L126.4,284.3L126.8,284.1L127.2,284.0L127.5,283.9L127.9,283.7L128.2,283.6L128.6,283.5L129.0,283.4L129.3,283.4L129.7,283.3L130.0,283.2L130.4,283.2L130.8,283.1L131.1,283.1L131.5,283.1L131.9,283.1L132.2,283.1L132.6,283.1L132.9,283.2L133.3,283.2L133.7,283.3L134.0,283.4L134.4,283.4L134.8,283.5L135.1,283.6L135.5,283.7L135.8,283.9L136.2,284.0L136.6,284.1L136.9,284.3L137.3,284.5L137.7,284.6L138.0,284.8L138.4,285.0L138.7,285.2L139.1,285.4L139.5,285.7L139.8,285.9L140.2,286.1L140.5,286.4L140.9,286.7L141.3,286.9L141.6,287.2L142.0,287.5L142.4,287.8L142.7,288.1L143.1,288.4L143.4,288.8L143.8,289.1L144.2,289.4L144.5,289.8L144.9,290.1L145.3,290.5L145.6,290.9L146.0,291.2L146.3,291.6L146.7,292.0L147.1,292.4L147.4,292.8L147.8,293.2L148.2,293.6L148.5,294.0L148.9,294.4L149.2,294.8L149.6,295.2L150.0,295.7L150.3,296.1L150.7,296.5L151.0,296.9L151.4,297.3L151.8,297.8L152.1,298.2L152.5,298.6L152.9,299.0L153.2,299.5L153.6,299.9L153.9,300.3L154.3,300.7L154.7,301.1L155.0,301.5L155.4,301.9L155.8,302.3L156.1,302.7L156.5,303.1L156.8,303.4L157.2,303.8L157.6,304.1L157.9,304.5L158.3,304.8L158.7,305.2L159.0,305.5L159.4,305.8L159.7,306.1L160.1,306.3L160.5,306.6L160.8,306.9L161.2,307.1L161.5,307.3L161.9,307.5L162.3,307.7L162.6,307.9L163.0,308.0L163.4,308.2L163.7,308.3L164.1,308.4L164.4,308.5L164.8,308.6L165.2,308.6L165.5,308.7L165.9,308.7L166.3,308.7L166.6,308.6L167.0,308.6L167.3,308.5L167.7,308.4L168.1,308.3L168.4,308.2L168.8,308.1L169.2,307.9L169.5,307.7L169.9,307.5L170.2,307.3L170.6,307.0L171.0,306.7L171.3,306.5L171.7,306.1L172.0,305.8L172.4,305.5L172.8,305.1L173.1,304.7L173.5,304.3L173.9,303.9L174.2,303.5L174.6,303.0L174.9,302.6L175.3,302.1L175.7,301.6L176.0,301.1L176.4,300.5L176.8,300.0L177.1,299.5L177.5,298.9L177.8,298.3L178.2,297.7L178.6,297.1L178.9,296.5L179.3,295.9L179.7,295.3L180.0,294.6L180.4,294.0L180.7,293.4L181.1,292.7L181.5,292.0L181.8,291.4L182.2,290.7L182.5,290.0L182.9,289.4L183.3,288.7L183.6,288.0L184.0,287.3L184.4,286.6L184.7,286.0L185.1,285.3L185.4,284.6L185.8,283.9L186.2,283.2L186.5,282.6L186.9,281.9L187.3,281.2L187.6,280.5L188.0,279.9L188.3,279.2L188.7,278.6L189.1,277.9L189.4,277.3L189.8,276.6L190.2,276.0L190.5,275.4L190.9,274.8L191.2,274.1L191.6,273.5L192.0,272.9L192.3,272.4L192.4,272.5L192.7,272.5L193.0,272.4L193.4,272.4L193.8,272.5L194.1,272.5L194.5,272.6L194.9,272.7L195.2,272.8L195.6,272.9L195.9,273.0L196.3,273.2L196.7,273.3L197.0,273.5L197.4,273.7L197.8,274.0L198.1,274.2L198.5,274.5L198.8,274.7L199.2,275.0L199.6,275.3L199.9,275.6L200.3,275.9L200.7,276.3L201.0,276.6L201.4,277.0L201.7,277.4L202.1,277.7L202.5,278.1L202.8,278.5L203.2,278.9L203.5,279.3L203.9,279.7L204.3,280.1L204.6,280.6L205.0,281.0L205.4,281.4L205.7,281.8L206.1,282.2L206.4,282.6L206.8,283.0L207.2,283.5L207.5,283.9L207.9,284.2L208.3,284.6L208.6,285.0L209.0,285.3L209.3,285.7L209.7,286.0L210.1,286.3L210.4,286.6L210.7,286.8L210.8,286.6L211.2,286.4L211.5,286.1L211.9,285.8L212.2,285.6L212.6,285.4L213.0,285.1L213.3,284.9L213.7,284.7L214.0,284.5L214.4,284.4" stroke="#E69F00" stroke-width="1.55" fill="none" stroke-linejoin="round"/><path d="M38.5,310.0L38.8,309.6L39.2,309.2L39.5,308.9L39.9,308.5L40.3,308.2L40.6,307.9L41.0,307.6L41.3,307.3L41.7,307.1L42.1,306.8L42.4,306.5L42.8,306.3L43.2,306.1L43.5,305.9L43.9,305.7L44.2,305.5L44.6,305.3L45.0,305.2L45.3,305.0L45.7,304.9L46.1,304.7L46.4,304.6L46.8,304.5L47.1,304.5L47.5,304.4L47.9,304.3L48.2,304.3L48.6,304.2L48.9,304.2L49.3,304.2L49.7,304.2L50.0,304.2L50.4,304.2L50.8,304.2L51.1,304.3L51.5,304.3L51.8,304.4L52.2,304.5L52.6,304.6L52.9,304.7L53.3,304.8L53.7,304.9L54.0,305.0L54.4,305.1L54.7,305.3L55.1,305.4L55.5,305.6L55.8,305.8L56.2,306.0L56.6,306.2L56.9,306.4L57.3,306.6L57.6,306.8L58.0,307.0L58.4,307.2L58.7,307.4L59.1,307.7L59.4,307.9L59.8,308.2L60.2,308.4L60.5,308.7L60.9,309.0L61.3,309.2L61.6,309.5L62.0,309.8L62.3,310.0L62.7,310.3L63.1,310.6L63.4,310.9L63.8,311.2L64.2,311.4L64.5,311.7L64.9,312.0L65.2,312.3L65.6,312.6L66.0,312.8L66.3,313.1L66.7,313.4L67.1,313.6L67.4,313.9L67.8,314.1L68.1,314.4L68.5,314.6L68.9,314.9L69.2,315.1L69.6,315.3L69.9,315.5L70.3,315.7L70.7,315.9L71.0,316.1L71.4,316.2L71.8,316.4L72.1,316.5L72.5,316.7L72.8,316.8L73.2,316.9L73.6,317.0L73.9,317.1L74.3,317.1L74.7,317.2L75.0,317.2L75.4,317.2L75.7,317.2L76.1,317.2L76.5,317.1L76.8,317.1L77.2,317.0L77.6,316.9L77.9,316.8L78.3,316.7L78.6,316.5L79.0,316.3L79.4,316.1L79.7,315.9L80.1,315.7L80.4,315.5L80.8,315.2L81.2,314.9L81.5,314.6L81.9,314.3L82.3,313.9L82.6,313.6L83.0,313.2L83.3,312.8L83.7,312.4L84.1,311.9L84.4,311.5L84.8,311.0L85.2,310.5L85.5,310.0L85.9,309.5L86.2,309.0L86.6,308.4L87.0,307.9L87.3,307.3L87.7,306.7L88.1,306.1L88.4,305.5L88.8,304.9L89.1,304.2L89.5,303.6L89.9,302.9L90.2,302.2L90.6,301.6L90.9,300.9L91.3,300.2L91.7,299.5L92.0,298.8L92.4,298.1L92.8,297.4L93.1,296.6L93.5,295.9L93.8,295.2L94.2,294.5L94.6,293.7L94.9,293.0L95.3,292.3L95.7,291.5L96.0,290.8L96.4,290.1L96.7,289.3L97.1,288.6L97.5,287.9L97.8,287.2L98.2,286.4L98.6,285.7L98.9,285.0L99.3,284.3L99.6,283.6L100.0,282.9L100.4,282.2L100.7,281.6L101.1,280.9L101.4,280.2L101.8,279.5L102.2,278.9L102.5,278.3L102.9,277.6L103.3,277.0L103.6,276.4L104.0,275.8L104.3,275.7L104.7,275.9L105.1,276.2L105.4,276.5L105.8,276.9L106.2,277.3L106.5,277.7L106.9,278.1L107.2,278.6L107.6,279.1L108.0,279.6L108.3,280.2L108.7,280.8L109.1,281.4L109.4,282.1L109.8,282.8L110.1,283.5L110.5,284.2L110.9,285.0L111.2,285.7L111.6,286.6L111.9,287.4L112.3,288.2L112.7,289.1L113.0,290.0L113.4,291.0L113.8,291.9L114.1,292.9L114.5,293.8L114.8,294.8L115.2,295.8L115.6,296.8L115.9,297.9L116.3,298.9L116.7,299.9L117.0,300.9L117.4,302.0L117.7,303.0L118.1,304.0L118.5,305.1L118.8,306.1L119.2,307.1L119.6,308.1L119.9,309.0L120.3,309.9L120.6,310.8L121.0,311.7L121.4,312.5L121.7,313.3L122.1,314.1L122.4,314.8L122.6,315.0L122.8,314.5L123.2,314.0L123.5,313.5L123.9,313.1L124.3,312.6L124.6,312.2L125.0,311.7L125.3,311.3L125.7,310.9L126.1,310.5L126.4,310.1L126.8,309.7L127.2,309.3L127.5,309.0L127.9,308.7L128.2,308.3L128.6,308.0L129.0,307.7L129.3,307.4L129.7,307.1L130.0,306.9L130.4,306.6L130.8,306.4L131.1,306.2L131.5,305.9L131.9,305.7L132.2,305.5L132.6,305.4L132.9,305.2L133.3,305.1L133.7,304.9L134.0,304.8L134.4,304.7L134.8,304.6L135.1,304.5L135.5,304.4L135.8,304.3L136.2,304.3L136.6,304.2L136.9,304.2L137.3,304.2L137.7,304.2L138.0,304.2L138.4,304.2L138.7,304.2L139.1,304.3L139.5,304.3L139.8,304.4L140.2,304.5L140.5,304.5L140.9,304.6L141.3,304.7L141.6,304.8L142.0,305.0L142.4,305.1L142.7,305.2L143.1,305.4L143.4,305.6L143.8,305.7L144.2,305.9L144.5,306.1L144.9,306.3L145.3,306.5L145.6,306.7L146.0,306.9L146.3,307.1L146.7,307.4L147.1,307.6L147.4,307.8L147.8,308.1L148.2,308.3L148.5,308.6L148.9,308.9L149.2,309.1L149.6,309.4L150.0,309.7L150.3,309.9L150.7,310.2L151.0,310.5L151.4,310.8L151.8,311.1L152.1,311.3L152.5,311.6L152.9,311.9L153.2,312.2L153.6,312.5L153.9,312.7L154.3,313.0L154.7,313.3L155.0,313.5L155.4,313.8L155.8,314.1L156.1,314.3L156.5,314.5L156.8,314.8L157.2,315.0L157.6,315.2L157.9,315.4L158.3,315.6L158.7,315.8L159.0,316.0L159.4,316.2L159.7,316.3L160.1,316.5L160.5,316.6L160.8,316.8L161.2,316.9L161.5,317.0L161.9,317.0L162.3,317.1L162.6,317.2L163.0,317.2L163.4,317.2L163.7,317.2L164.1,317.2L164.4,317.1L164.8,317.1L165.2,317.0L165.5,316.9L165.9,316.8L166.3,316.7L166.6,316.6L167.0,316.4L167.3,316.2L167.7,316.0L168.1,315.8L168.4,315.5L168.8,315.3L169.2,315.0L169.5,314.7L169.9,314.4L170.2,314.1L170.6,313.7L171.0,313.3L171.3,312.9L171.7,312.5L172.0,312.1L172.4,311.6L172.8,311.2L173.1,310.7L173.5,310.2L173.9,309.7L174.2,309.2L174.6,308.6L174.9,308.1L175.3,307.5L175.7,306.9L176.0,306.3L176.4,305.7L176.8,305.1L177.1,304.4L177.5,303.8L177.8,303.1L178.2,302.5L178.6,301.8L178.9,301.1L179.3,300.4L179.7,299.7L180.0,299.0L180.4,298.3L180.7,297.6L181.1,296.9L181.5,296.2L181.8,295.4L182.2,294.7L182.5,294.0L182.9,293.2L183.3,292.5L183.6,291.8L184.0,291.1L184.4,290.3L184.7,289.6L185.1,288.9L185.4,288.1L185.8,287.4L186.2,286.7L186.5,286.0L186.9,285.3L187.3,284.6L187.6,283.8L188.0,283.2L188.3,282.5L188.7,281.8L189.1,281.1L189.4,280.4L189.8,279.8L190.2,279.1L190.5,278.5L190.9,277.8L191.2,277.2L191.6,276.6L192.0,276.0L192.3,275.4L192.4,275.7L192.7,275.8L193.0,276.1L193.4,276.4L193.8,276.8L194.1,277.1L194.5,277.5L194.9,278.0L195.2,278.4L195.6,278.9L195.9,279.5L196.3,280.0L196.7,280.6L197.0,281.2L197.4,281.9L197.8,282.5L198.1,283.2L198.5,283.9L198.8,284.7L199.2,285.5L199.6,286.3L199.9,287.1L200.3,288.0L200.7,288.8L201.0,289.7L201.4,290.6L201.7,291.6L202.1,292.5L202.5,293.5L202.8,294.5L203.2,295.5L203.5,296.5L203.9,297.5L204.3,298.5L204.6,299.6L205.0,300.6L205.4,301.6L205.7,302.7L206.1,303.7L206.4,304.7L206.8,305.7L207.2,306.7L207.5,307.7L207.9,308.7L208.3,309.6L208.6,310.5L209.0,311.4L209.3,312.3L209.7,313.1L210.1,313.8L210.4,314.6L210.7,315.0L210.8,314.7L211.2,314.2L211.5,313.7L211.9,313.2L212.2,312.8L212.6,312.3L213.0,311.9L213.3,311.4L213.7,311.0L214.0,310.6L214.4,310.2" stroke="#0072B2" stroke-width="1.55" fill="none" stroke-linejoin="round"/><path d="M38.5,348.0L38.8,347.2L39.2,346.4L39.5,345.6L39.9,344.9L40.3,344.1L40.6,343.4L41.0,342.7L41.3,342.0L41.7,341.3L42.1,340.6L42.4,340.0L42.8,339.3L43.2,338.7L43.5,338.1L43.9,337.5L44.2,337.0L44.6,336.4L45.0,335.9L45.3,335.4L45.7,334.9L46.1,334.4L46.4,333.9L46.8,333.4L47.1,333.0L47.5,332.6L47.9,332.2L48.2,331.8L48.6,331.4L48.9,331.1L49.3,330.7L49.7,330.4L50.0,330.1L50.4,329.8L50.8,329.5L51.1,329.2L51.5,329.0L51.8,328.7L52.2,328.5L52.6,328.3L52.9,328.1L53.3,327.9L53.7,327.8L54.0,327.6L54.4,327.5L54.7,327.3L55.1,327.2L55.5,327.1L55.8,327.0L56.2,326.9L56.6,326.9L56.9,326.8L57.3,326.8L57.6,326.7L58.0,326.7L58.4,326.7L58.7,326.7L59.1,326.6L59.4,326.7L59.8,326.7L60.2,326.7L60.5,326.7L60.9,326.8L61.3,326.8L61.6,326.8L62.0,326.9L62.3,326.9L62.7,327.0L63.1,327.1L63.4,327.1L63.8,327.2L64.2,327.3L64.5,327.4L64.9,327.4L65.2,327.5L65.6,327.6L66.0,327.7L66.3,327.7L66.7,327.8L67.1,327.9L67.4,327.9L67.8,328.0L68.1,328.1L68.5,328.1L68.9,328.2L69.2,328.2L69.6,328.2L69.9,328.3L70.3,328.3L70.7,328.3L71.0,328.3L71.4,328.3L71.8,328.3L72.1,328.2L72.5,328.2L72.8,328.1L73.2,328.1L73.6,328.0L73.9,327.9L74.3,327.8L74.7,327.7L75.0,327.6L75.4,327.4L75.7,327.3L76.1,327.1L76.5,326.9L76.8,326.7L77.2,326.4L77.6,326.2L77.9,325.9L78.3,325.7L78.6,325.4L79.0,325.0L79.4,324.7L79.7,324.4L80.1,324.0L80.4,323.6L80.8,323.2L81.2,322.8L81.5,322.3L81.9,321.9L82.3,321.4L82.6,320.9L83.0,320.4L83.3,319.9L83.7,319.4L84.1,318.8L84.4,318.2L84.8,317.6L85.2,317.0L85.5,316.4L85.9,315.8L86.2,315.2L86.6,314.5L87.0,313.8L87.3,313.2L87.7,312.5L88.1,311.8L88.4,311.0L88.8,310.3L89.1,309.6L89.5,308.9L89.9,308.1L90.2,307.4L90.6,306.6L90.9,305.8L91.3,305.0L91.7,304.3L92.0,303.5L92.4,302.7L92.8,301.9L93.1,301.1L93.5,300.3L93.8,299.5L94.2,298.7L94.6,297.9L94.9,297.2L95.3,296.4L95.7,295.6L96.0,294.8L96.4,294.0L96.7,293.2L97.1,292.4L97.5,291.7L97.8,290.9L98.2,290.1L98.6,289.4L98.9,288.6L99.3,287.9L99.6,287.1L100.0,286.4L100.4,285.7L100.7,285.0L101.1,284.3L101.4,283.6L101.8,282.9L102.2,282.2L102.5,281.5L102.9,280.9L103.3,280.2L103.6,279.6L104.0,279.0L104.3,279.1L104.7,279.6L105.1,280.3L105.4,280.9L105.8,281.7L106.2,282.4L106.5,283.2L106.9,284.1L107.2,285.0L107.6,286.0L108.0,287.0L108.3,288.1L108.7,289.2L109.1,290.4L109.4,291.6L109.8,292.8L110.1,294.1L110.5,295.5L110.9,296.9L111.2,298.4L111.6,299.9L111.9,301.5L112.3,303.1L112.7,304.7L113.0,306.4L113.4,308.2L113.8,310.0L114.1,311.8L114.5,313.7L114.8,315.7L115.2,317.6L115.6,319.6L115.9,321.6L116.3,323.7L116.7,325.8L117.0,327.9L117.4,330.0L117.7,332.2L118.1,334.3L118.5,336.4L118.8,338.6L119.2,340.7L119.6,342.8L119.9,344.9L120.3,346.9L120.6,348.9L121.0,350.8L121.4,352.7L121.7,354.5L122.1,356.2L122.4,357.7L122.6,358.2L122.8,357.3L123.2,356.3L123.5,355.3L123.9,354.4L124.3,353.5L124.6,352.6L125.0,351.7L125.3,350.8L125.7,350.0L126.1,349.1L126.4,348.3L126.8,347.5L127.2,346.7L127.5,345.9L127.9,345.1L128.2,344.4L128.6,343.6L129.0,342.9L129.3,342.2L129.7,341.5L130.0,340.8L130.4,340.2L130.8,339.5L131.1,338.9L131.5,338.3L131.9,337.7L132.2,337.2L132.6,336.6L132.9,336.1L133.3,335.5L133.7,335.0L134.0,334.5L134.4,334.1L134.8,333.6L135.1,333.2L135.5,332.7L135.8,332.3L136.2,331.9L136.6,331.5L136.9,331.2L137.3,330.8L137.7,330.5L138.0,330.2L138.4,329.9L138.7,329.6L139.1,329.3L139.5,329.1L139.8,328.8L140.2,328.6L140.5,328.4L140.9,328.2L141.3,328.0L141.6,327.8L142.0,327.7L142.4,327.5L142.7,327.4L143.1,327.3L143.4,327.1L143.8,327.0L144.2,327.0L144.5,326.9L144.9,326.8L145.3,326.8L145.6,326.7L146.0,326.7L146.3,326.7L146.7,326.7L147.1,326.6L147.4,326.7L147.8,326.7L148.2,326.7L148.5,326.7L148.9,326.7L149.2,326.8L149.6,326.8L150.0,326.9L150.3,326.9L150.7,327.0L151.0,327.1L151.4,327.1L151.8,327.2L152.1,327.3L152.5,327.3L152.9,327.4L153.2,327.5L153.6,327.6L153.9,327.6L154.3,327.7L154.7,327.8L155.0,327.8L155.4,327.9L155.8,328.0L156.1,328.0L156.5,328.1L156.8,328.1L157.2,328.2L157.6,328.2L157.9,328.2L158.3,328.3L158.7,328.3L159.0,328.3L159.4,328.3L159.7,328.3L160.1,328.2L160.5,328.2L160.8,328.2L161.2,328.1L161.5,328.0L161.9,327.9L162.3,327.8L162.6,327.7L163.0,327.6L163.4,327.5L163.7,327.3L164.1,327.1L164.4,326.9L164.8,326.7L165.2,326.5L165.5,326.3L165.9,326.0L166.3,325.7L166.6,325.5L167.0,325.1L167.3,324.8L167.7,324.5L168.1,324.1L168.4,323.7L168.8,323.3L169.2,322.9L169.5,322.5L169.9,322.0L170.2,321.6L170.6,321.1L171.0,320.6L171.3,320.1L171.7,319.5L172.0,319.0L172.4,318.4L172.8,317.8L173.1,317.2L173.5,316.6L173.9,316.0L174.2,315.4L174.6,314.7L174.9,314.1L175.3,313.4L175.7,312.7L176.0,312.0L176.4,311.3L176.8,310.6L177.1,309.8L177.5,309.1L177.8,308.4L178.2,307.6L178.6,306.8L178.9,306.1L179.3,305.3L179.7,304.5L180.0,303.8L180.4,303.0L180.7,302.2L181.1,301.4L181.5,300.6L181.8,299.8L182.2,299.0L182.5,298.2L182.9,297.4L183.3,296.6L183.6,295.8L184.0,295.0L184.4,294.3L184.7,293.5L185.1,292.7L185.4,291.9L185.8,291.1L186.2,290.4L186.5,289.6L186.9,288.9L187.3,288.1L187.6,287.4L188.0,286.6L188.3,285.9L188.7,285.2L189.1,284.5L189.4,283.8L189.8,283.1L190.2,282.4L190.5,281.8L190.9,281.1L191.2,280.5L191.6,279.8L192.0,279.2L192.3,278.6L192.4,279.1L192.7,279.4L193.0,280.0L193.4,280.7L193.8,281.4L194.1,282.2L194.5,283.0L194.9,283.8L195.2,284.7L195.6,285.7L195.9,286.7L196.3,287.7L196.7,288.8L197.0,290.0L197.4,291.2L197.8,292.4L198.1,293.7L198.5,295.1L198.8,296.4L199.2,297.9L199.6,299.4L199.9,300.9L200.3,302.5L200.7,304.2L201.0,305.9L201.4,307.6L201.7,309.4L202.1,311.2L202.5,313.1L202.8,315.0L203.2,317.0L203.5,318.9L203.9,321.0L204.3,323.0L204.6,325.1L205.0,327.2L205.4,329.3L205.7,331.4L206.1,333.6L206.4,335.7L206.8,337.9L207.2,340.0L207.5,342.1L207.9,344.2L208.3,346.2L208.6,348.2L209.0,350.2L209.3,352.1L209.7,353.9L210.1,355.6L210.4,357.2L210.7,358.2L210.8,357.6L211.2,356.6L211.5,355.7L211.9,354.7L212.2,353.8L212.6,352.9L213.0,352.0L213.3,351.1L213.7,350.3L214.0,349.4L214.4,348.6" stroke="#009E73" stroke-width="1.55" fill="none" stroke-linejoin="round"/><path d="M38.45,231.20V408.05M37.90,407.50H215.20" stroke="#333333" stroke-width="1.1" fill="none"/><path d="M34.25,407.50H38.45M34.25,372.24H38.45M34.25,336.98H38.45M34.25,301.72H38.45M34.25,266.46H38.45M34.25,231.20H38.45M38.45,407.50V411.50M45.93,407.50V411.50M52.69,407.50V411.50M60.17,407.50V411.50M67.41,407.50V411.50M74.90,407.50V411.50M82.14,407.50V411.50M89.62,407.50V411.50M97.10,407.50V411.50M104.34,407.50V411.50M111.83,407.50V411.50M119.07,407.50V411.50M126.55,407.50V411.50M134.03,407.50V411.50M140.79,407.50V411.50M148.27,407.50V411.50M155.51,407.50V411.50M163.00,407.50V411.50M170.24,407.50V411.50M177.72,407.50V411.50M185.20,407.50V411.50M192.44,407.50V411.50M199.93,407.50V411.50M207.17,407.50V411.50M214.65,407.50V411.50" stroke="#333333" stroke-width="1.0" fill="none"/><text x="31.85" y="411.25" text-anchor="end" class="t">0.0</text><text x="31.85" y="375.99" text-anchor="end" class="t">0.1</text><text x="31.85" y="340.73" text-anchor="end" class="t">0.2</text><text x="31.85" y="305.47" text-anchor="end" class="t">0.3</text><text x="31.85" y="270.21" text-anchor="end" class="t">0.4</text><text x="31.85" y="234.95" text-anchor="end" class="t">0.5</text><text x="38.45" y="421.50" text-anchor="middle" class="t">Jan</text><text x="60.17" y="421.50" text-anchor="middle" class="t">Apr</text><text x="82.14" y="421.50" text-anchor="middle" class="t">Jul</text><text x="104.34" y="421.50" text-anchor="middle" class="t">Oct</text><text x="126.55" y="421.50" text-anchor="middle" class="t">Jan</text><text x="148.27" y="421.50" text-anchor="middle" class="t">Apr</text><text x="170.24" y="421.50" text-anchor="middle" class="t">Jul</text><text x="192.44" y="421.50" text-anchor="middle" class="t">Oct</text><text x="214.65" y="421.50" text-anchor="middle" class="t">Jan</text><text transform="translate(12.55,319.35) rotate(-90)" text-anchor="middle" class="yl">Outbreak risk</text><rect x="145.20" y="359.50" width="64.60" height="42.90" rx="2.2" fill="#ffffff" fill-opacity="0.8" stroke="#cccccc" stroke-opacity="0.8" stroke-width="0.9"/><path d="M148.70,366.70H169.00" stroke="#E69F00" stroke-width="1.55"/><text x="175.60" y="370.00" class="lg"><tspan font-style="italic">θ</tspan> = 0.4</text><path d="M148.70,380.20H169.00" stroke="#0072B2" stroke-width="1.55"/><text x="175.60" y="383.50" class="lg"><tspan font-style="italic">θ</tspan> = 0.6</text><path d="M148.70,393.70H169.00" stroke="#009E73" stroke-width="1.55"/><text x="175.60" y="397.00" class="lg"><tspan font-style="italic">θ</tspan> = 0.8</text><text x="0.0" y="227.1" class="pl">D.</text><rect x="329.17" y="231.20" width="23.77" height="176.30" fill="#bebebe"/><rect x="417.27" y="231.20" width="23.77" height="176.30" fill="#bebebe"/><path d="M269.6,249.0L269.9,249.1L270.3,249.1L270.6,249.2L271.0,249.3L271.4,249.4L271.7,249.5L272.1,249.6L272.4,249.7L272.8,249.8L273.2,249.9L273.5,250.1L273.9,250.3L274.3,250.4L274.6,250.6L275.0,250.8L275.3,251.0L275.7,251.2L276.1,251.5L276.4,251.7L276.8,252.0L277.2,252.2L277.5,252.5L277.9,252.8L278.2,253.1L278.6,253.4L279.0,253.7L279.3,254.0L279.7,254.4L280.0,254.7L280.4,255.1L280.8,255.4L281.1,255.8L281.5,256.2L281.9,256.6L282.2,257.0L282.6,257.4L282.9,257.9L283.3,258.3L283.7,258.7L284.0,259.2L284.4,259.7L284.8,260.1L285.1,260.6L285.5,261.1L285.8,261.6L286.2,262.1L286.6,262.6L286.9,263.2L287.3,263.7L287.7,264.2L288.0,264.8L288.4,265.3L288.7,265.9L289.1,266.4L289.5,267.0L289.8,267.6L290.2,268.2L290.5,268.8L290.9,269.4L291.3,269.9L291.6,270.5L292.0,271.1L292.4,271.8L292.7,272.4L293.1,273.0L293.4,273.6L293.8,274.2L294.2,274.8L294.5,275.4L294.9,276.0L295.3,276.7L295.6,277.3L296.0,277.9L296.3,278.5L296.7,279.1L297.1,279.7L297.4,280.3L297.8,280.9L298.2,281.5L298.5,282.1L298.9,282.6L299.2,283.2L299.6,283.8L300.0,284.3L300.3,284.9L300.7,285.4L301.0,285.9L301.4,286.5L301.8,287.0L302.1,287.5L302.5,288.0L302.9,288.4L303.2,288.9L303.6,289.3L303.9,289.8L304.3,290.2L304.7,290.6L305.0,291.0L305.4,291.3L305.8,291.7L306.1,292.0L306.5,292.3L306.8,292.6L307.2,292.9L307.6,293.2L307.9,293.4L308.3,293.6L308.7,293.8L309.0,294.0L309.4,294.2L309.7,294.3L310.1,294.4L310.5,294.5L310.8,294.6L311.2,294.7L311.5,294.7L311.9,294.7L312.3,294.7L312.6,294.7L313.0,294.6L313.4,294.6L313.7,294.5L314.1,294.4L314.4,294.2L314.8,294.1L315.2,293.9L315.5,293.7L315.9,293.5L316.3,293.3L316.6,293.0L317.0,292.7L317.3,292.5L317.7,292.2L318.1,291.8L318.4,291.5L318.8,291.1L319.2,290.8L319.5,290.4L319.9,290.0L320.2,289.6L320.6,289.1L321.0,288.7L321.3,288.2L321.7,287.8L322.0,287.3L322.4,286.8L322.8,286.3L323.1,285.8L323.5,285.3L323.9,284.8L324.2,284.2L324.6,283.7L324.9,283.1L325.3,282.6L325.7,282.0L326.0,281.4L326.4,280.9L326.8,280.3L327.1,279.7L327.5,279.1L327.8,278.5L328.2,278.0L328.6,277.4L328.9,276.8L329.3,276.2L329.7,275.6L330.0,275.0L330.4,274.4L330.7,273.8L331.1,273.2L331.5,272.6L331.8,272.0L332.2,271.4L332.5,270.9L332.9,270.3L333.3,269.7L333.6,269.1L334.0,268.6L334.4,268.0L334.7,267.4L335.1,266.9L335.4,266.3L335.8,265.8L336.2,265.3L336.5,264.7L336.9,264.2L337.3,263.7L337.6,263.2L338.0,262.7L338.3,262.2L338.7,261.7L339.1,261.2L339.4,260.7L339.8,260.2L340.2,259.8L340.5,259.3L340.9,258.9L341.2,258.4L341.6,258.0L342.0,257.6L342.3,257.2L342.7,256.8L343.0,256.4L343.4,256.0L343.8,255.6L344.1,255.3L344.5,254.9L344.9,254.6L345.2,254.2L345.6,253.9L345.9,253.6L346.3,253.3L346.7,253.0L347.0,252.7L347.4,252.4L347.8,252.2L348.1,251.9L348.5,251.7L348.8,251.4L349.2,251.2L349.6,251.0L349.9,250.8L350.3,250.6L350.7,250.4L351.0,250.3L351.4,250.1L351.7,249.9L352.1,249.8L352.5,249.7L352.8,249.6L353.2,249.5L353.5,249.4L353.9,249.3L354.3,249.2L354.6,249.1L355.0,249.1L355.4,249.0L355.7,249.0L356.1,249.0L356.4,249.0L356.8,249.0L357.2,249.0L357.5,249.0L357.9,249.1L358.3,249.1L358.6,249.2L359.0,249.2L359.3,249.3L359.7,249.4L360.1,249.5L360.4,249.6L360.8,249.8L361.1,249.9L361.5,250.0L361.9,250.2L362.2,250.4L362.6,250.6L363.0,250.8L363.3,251.0L363.7,251.2L364.0,251.4L364.4,251.6L364.8,251.9L365.1,252.1L365.5,252.4L365.9,252.7L366.2,253.0L366.6,253.3L366.9,253.6L367.3,253.9L367.7,254.3L368.0,254.6L368.4,255.0L368.8,255.3L369.1,255.7L369.5,256.1L369.8,256.5L370.2,256.9L370.6,257.3L370.9,257.7L371.3,258.2L371.6,258.6L372.0,259.0L372.4,259.5L372.7,260.0L373.1,260.5L373.5,260.9L373.8,261.4L374.2,262.0L374.5,262.5L374.9,263.0L375.3,263.5L375.6,264.0L376.0,264.6L376.4,265.1L376.7,265.7L377.1,266.3L377.4,266.8L377.8,267.4L378.2,268.0L378.5,268.6L378.9,269.2L379.3,269.7L379.6,270.3L380.0,270.9L380.3,271.6L380.7,272.2L381.1,272.8L381.4,273.4L381.8,274.0L382.1,274.6L382.5,275.2L382.9,275.8L383.2,276.4L383.6,277.1L384.0,277.7L384.3,278.3L384.7,278.9L385.0,279.5L385.4,280.1L385.8,280.7L386.1,281.3L386.5,281.9L386.9,282.4L387.2,283.0L387.6,283.6L387.9,284.1L388.3,284.7L388.7,285.2L389.0,285.8L389.4,286.3L389.8,286.8L390.1,287.3L390.5,287.8L390.8,288.3L391.2,288.7L391.6,289.2L391.9,289.6L392.3,290.0L392.6,290.4L393.0,290.8L393.4,291.2L393.7,291.6L394.1,291.9L394.5,292.2L394.8,292.5L395.2,292.8L395.5,293.1L395.9,293.3L396.3,293.6L396.6,293.8L397.0,294.0L397.4,294.1L397.7,294.3L398.1,294.4L398.4,294.5L398.8,294.6L399.2,294.7L399.5,294.7L399.9,294.7L400.3,294.7L400.6,294.7L401.0,294.7L401.3,294.6L401.7,294.5L402.1,294.4L402.4,294.3L402.8,294.1L403.1,294.0L403.5,293.8L403.9,293.6L404.2,293.3L404.6,293.1L405.0,292.8L405.3,292.6L405.7,292.3L406.0,291.9L406.4,291.6L406.8,291.3L407.1,290.9L407.5,290.5L407.9,290.1L408.2,289.7L408.6,289.3L408.9,288.9L409.3,288.4L409.7,287.9L410.0,287.5L410.4,287.0L410.8,286.5L411.1,286.0L411.5,285.5L411.8,284.9L412.2,284.4L412.6,283.9L412.9,283.3L413.3,282.8L413.6,282.2L414.0,281.6L414.4,281.1L414.7,280.5L415.1,279.9L415.5,279.3L415.8,278.7L416.2,278.2L416.5,277.6L416.9,277.0L417.3,276.4L417.6,275.8L418.0,275.2L418.4,274.6L418.7,274.0L419.1,273.4L419.4,272.8L419.8,272.2L420.2,271.6L420.5,271.1L420.9,270.5L421.3,269.9L421.6,269.3L422.0,268.8L422.3,268.2L422.7,267.6L423.1,267.1L423.4,266.5L423.8,266.0L424.1,265.4L424.5,264.9L424.9,264.4L425.2,263.9L425.6,263.3L426.0,262.8L426.3,262.3L426.7,261.8L427.0,261.3L427.4,260.9L427.8,260.4L428.1,259.9L428.5,259.5L428.9,259.0L429.2,258.6L429.6,258.2L429.9,257.7L430.3,257.3L430.7,256.9L431.0,256.5L431.4,256.1L431.8,255.8L432.1,255.4L432.5,255.0L432.8,254.7L433.2,254.4L433.6,254.0L433.9,253.7L434.3,253.4L434.6,253.1L435.0,252.8L435.4,252.5L435.7,252.3L436.1,252.0L436.5,251.8L436.8,251.5L437.2,251.3L437.5,251.1L437.9,250.9L438.3,250.7L438.6,250.5L439.0,250.3L439.4,250.1L439.7,250.0L440.1,249.9L440.4,249.7L440.8,249.6L441.2,249.5L441.5,249.4L441.9,249.3L442.3,249.2L442.6,249.2L443.0,249.1L443.3,249.1L443.7,249.0L444.1,249.0L444.4,249.0L444.8,249.0L445.1,249.0L445.5,249.0" stroke="#000000" stroke-opacity="0.72" stroke-width="1.55" stroke-dasharray="4.7 2.6" fill="none"/><path d="M269.6,281.3L269.9,281.1L270.3,281.0L270.6,280.8L271.0,280.7L271.4,280.6L271.7,280.4L272.1,280.3L272.4,280.2L272.8,280.2L273.2,280.1L273.5,280.1L273.9,280.0L274.3,280.0L274.6,280.0L275.0,280.0L275.3,280.0L275.7,280.0L276.1,280.0L276.4,280.1L276.8,280.1L277.2,280.2L277.5,280.3L277.9,280.4L278.2,280.5L278.6,280.6L279.0,280.7L279.3,280.9L279.7,281.0L280.0,281.2L280.4,281.3L280.8,281.5L281.1,281.7L281.5,281.9L281.9,282.1L282.2,282.4L282.6,282.6L282.9,282.8L283.3,283.1L283.7,283.4L284.0,283.6L284.4,283.9L284.8,284.2L285.1,284.5L285.5,284.8L285.8,285.2L286.2,285.5L286.6,285.8L286.9,286.2L287.3,286.5L287.7,286.9L288.0,287.3L288.4,287.6L288.7,288.0L289.1,288.4L289.5,288.8L289.8,289.2L290.2,289.6L290.5,290.0L290.9,290.4L291.3,290.9L291.6,291.3L292.0,291.7L292.4,292.2L292.7,292.6L293.1,293.0L293.4,293.5L293.8,293.9L294.2,294.3L294.5,294.8L294.9,295.2L295.3,295.7L295.6,296.1L296.0,296.6L296.3,297.0L296.7,297.4L297.1,297.9L297.4,298.3L297.8,298.7L298.2,299.1L298.5,299.6L298.9,300.0L299.2,300.4L299.6,300.8L300.0,301.1L300.3,301.5L300.7,301.9L301.0,302.3L301.4,302.6L301.8,303.0L302.1,303.3L302.5,303.6L302.9,303.9L303.2,304.2L303.6,304.5L303.9,304.7L304.3,305.0L304.7,305.2L305.0,305.5L305.4,305.7L305.8,305.9L306.1,306.0L306.5,306.2L306.8,306.3L307.2,306.4L307.6,306.5L307.9,306.6L308.3,306.7L308.7,306.7L309.0,306.8L309.4,306.8L309.7,306.7L310.1,306.7L310.5,306.6L310.8,306.6L311.2,306.5L311.5,306.4L311.9,306.2L312.3,306.1L312.6,305.9L313.0,305.7L313.4,305.4L313.7,305.2L314.1,304.9L314.4,304.7L314.8,304.4L315.2,304.0L315.5,303.7L315.9,303.3L316.3,302.9L316.6,302.6L317.0,302.1L317.3,301.7L317.7,301.3L318.1,300.8L318.4,300.3L318.8,299.8L319.2,299.3L319.5,298.8L319.9,298.2L320.2,297.7L320.6,297.1L321.0,296.5L321.3,295.9L321.7,295.3L322.0,294.7L322.4,294.1L322.8,293.5L323.1,292.8L323.5,292.2L323.9,291.5L324.2,290.9L324.6,290.2L324.9,289.5L325.3,288.8L325.7,288.2L326.0,287.5L326.4,286.8L326.8,286.1L327.1,285.4L327.5,284.7L327.8,284.0L328.2,283.3L328.6,282.6L328.9,281.9L329.2,282.7L329.3,282.6L329.7,282.5L330.0,282.3L330.4,282.1L330.7,281.9L331.1,281.8L331.5,281.6L331.8,281.5L332.2,281.3L332.5,281.2L332.9,281.0L333.3,280.9L333.6,280.8L334.0,280.7L334.4,280.6L334.7,280.5L335.1,280.4L335.4,280.3L335.8,280.2L336.2,280.1L336.5,280.0L336.9,280.0L337.3,279.9L337.6,279.9L338.0,279.9L338.3,279.8L338.7,279.8L339.1,279.8L339.4,279.8L339.8,279.8L340.2,279.8L340.5,279.9L340.9,279.9L341.2,279.9L341.6,280.0L342.0,280.1L342.3,280.1L342.7,280.2L343.0,280.3L343.4,280.4L343.8,280.5L344.1,280.6L344.5,280.7L344.9,280.9L345.2,281.0L345.6,281.2L345.9,281.3L346.3,281.5L346.7,281.7L347.0,281.9L347.4,282.1L347.8,282.3L348.1,282.5L348.5,282.7L348.8,282.9L349.2,283.1L349.6,283.4L349.9,283.6L350.3,283.9L350.7,284.1L351.0,284.4L351.4,284.7L351.7,285.0L352.1,285.2L352.5,285.5L352.7,285.7L352.8,284.9L353.2,284.6L353.5,284.2L353.9,283.9L354.3,283.6L354.6,283.3L355.0,283.0L355.4,282.8L355.7,282.5L356.1,282.2L356.4,282.0L356.8,281.8L357.2,281.6L357.5,281.4L357.9,281.2L358.3,281.0L358.6,280.9L359.0,280.7L359.3,280.6L359.7,280.5L360.1,280.4L360.4,280.3L360.8,280.2L361.1,280.1L361.5,280.1L361.9,280.0L362.2,280.0L362.6,280.0L363.0,280.0L363.3,280.0L363.7,280.0L364.0,280.0L364.4,280.1L364.8,280.1L365.1,280.2L365.5,280.2L365.9,280.3L366.2,280.4L366.6,280.5L366.9,280.7L367.3,280.8L367.7,281.0L368.0,281.1L368.4,281.3L368.8,281.5L369.1,281.7L369.5,281.9L369.8,282.1L370.2,282.3L370.6,282.5L370.9,282.8L371.3,283.0L371.6,283.3L372.0,283.6L372.4,283.8L372.7,284.1L373.1,284.4L373.5,284.7L373.8,285.1L374.2,285.4L374.5,285.7L374.9,286.1L375.3,286.4L375.6,286.8L376.0,287.1L376.4,287.5L376.7,287.9L377.1,288.3L377.4,288.7L377.8,289.1L378.2,289.5L378.5,289.9L378.9,290.3L379.3,290.7L379.6,291.2L380.0,291.6L380.3,292.0L380.7,292.4L381.1,292.9L381.4,293.3L381.8,293.8L382.1,294.2L382.5,294.6L382.9,295.1L383.2,295.5L383.6,296.0L384.0,296.4L384.3,296.8L384.7,297.3L385.0,297.7L385.4,298.1L385.8,298.6L386.1,299.0L386.5,299.4L386.9,299.8L387.2,300.2L387.6,300.6L387.9,301.0L388.3,301.4L388.7,301.8L389.0,302.1L389.4,302.5L389.8,302.8L390.1,303.2L390.5,303.5L390.8,303.8L391.2,304.1L391.6,304.4L391.9,304.7L392.3,304.9L392.6,305.2L393.0,305.4L393.4,305.6L393.7,305.8L394.1,306.0L394.5,306.1L394.8,306.3L395.2,306.4L395.5,306.5L395.9,306.6L396.3,306.7L396.6,306.7L397.0,306.7L397.4,306.8L397.7,306.7L398.1,306.7L398.4,306.7L398.8,306.6L399.2,306.5L399.5,306.4L399.9,306.3L400.3,306.1L400.6,305.9L401.0,305.7L401.3,305.5L401.7,305.3L402.1,305.0L402.4,304.8L402.8,304.5L403.1,304.1L403.5,303.8L403.9,303.5L404.2,303.1L404.6,302.7L405.0,302.3L405.3,301.8L405.7,301.4L406.0,300.9L406.4,300.5L406.8,300.0L407.1,299.5L407.5,298.9L407.9,298.4L408.2,297.9L408.6,297.3L408.9,296.7L409.3,296.1L409.7,295.5L410.0,294.9L410.4,294.3L410.8,293.7L411.1,293.0L411.5,292.4L411.8,291.7L412.2,291.1L412.6,290.4L412.9,289.8L413.3,289.1L413.6,288.4L414.0,287.7L414.4,287.0L414.7,286.3L415.1,285.6L415.5,284.9L415.8,284.2L416.2,283.5L416.5,282.8L416.9,282.1L417.3,282.7L417.6,282.5L418.0,282.3L418.4,282.2L418.7,282.0L419.1,281.8L419.4,281.7L419.8,281.5L420.2,281.4L420.5,281.2L420.9,281.1L421.3,281.0L421.6,280.8L422.0,280.7L422.3,280.6L422.7,280.5L423.1,280.4L423.4,280.3L423.8,280.2L424.1,280.1L424.5,280.1L424.9,280.0L425.2,279.9L425.6,279.9L426.0,279.9L426.3,279.8L426.7,279.8L427.0,279.8L427.4,279.8L427.8,279.8L428.1,279.8L428.5,279.8L428.9,279.9L429.2,279.9L429.6,280.0L429.9,280.0L430.3,280.1L430.7,280.2L431.0,280.3L431.4,280.4L431.8,280.5L432.1,280.6L432.5,280.7L432.8,280.8L433.2,281.0L433.6,281.1L433.9,281.3L434.3,281.4L434.6,281.6L435.0,281.8L435.4,282.0L435.7,282.2L436.1,282.4L436.5,282.6L436.8,282.8L437.2,283.1L437.5,283.3L437.9,283.5L438.3,283.8L438.6,284.1L439.0,284.3L439.4,284.6L439.7,284.9L440.1,285.1L440.4,285.4L440.8,285.7L441.2,284.7L441.5,284.4L441.9,284.0L442.3,283.7L442.6,283.4L443.0,283.1L443.3,282.8L443.7,282.6L444.1,282.3L444.4,282.1L444.8,281.9L445.1,281.7L445.5,281.4" stroke="#E69F00" stroke-width="1.55" fill="none" stroke-linejoin="round"/><path d="M269.55,231.20V408.05M269.00,407.50H446.30" stroke="#333333" stroke-width="1.1" fill="none"/><path d="M265.35,407.50H269.55M265.35,372.24H269.55M265.35,336.98H269.55M265.35,301.72H269.55M265.35,266.46H269.55M265.35,231.20H269.55M269.55,407.50V411.50M277.03,407.50V411.50M283.79,407.50V411.50M291.27,407.50V411.50M298.51,407.50V411.50M306.00,407.50V411.50M313.24,407.50V411.50M320.72,407.50V411.50M328.20,407.50V411.50M335.44,407.50V411.50M342.93,407.50V411.50M350.17,407.50V411.50M357.65,407.50V411.50M365.13,407.50V411.50M371.89,407.50V411.50M379.37,407.50V411.50M386.61,407.50V411.50M394.10,407.50V411.50M401.34,407.50V411.50M408.82,407.50V411.50M416.30,407.50V411.50M423.54,407.50V411.50M431.03,407.50V411.50M438.27,407.50V411.50M445.75,407.50V411.50" stroke="#333333" stroke-width="1.0" fill="none"/><text x="262.95" y="411.25" text-anchor="end" class="t">0.0</text><text x="262.95" y="375.99" text-anchor="end" class="t">0.1</text><text x="262.95" y="340.73" text-anchor="end" class="t">0.2</text><text x="262.95" y="305.47" text-anchor="end" class="t">0.3</text><text x="262.95" y="270.21" text-anchor="end" class="t">0.4</text><text x="262.95" y="234.95" text-anchor="end" class="t">0.5</text><text x="269.55" y="421.50" text-anchor="middle" class="t">Jan</text><text x="291.27" y="421.50" text-anchor="middle" class="t">Apr</text><text x="313.24" y="421.50" text-anchor="middle" class="t">Jul</text><text x="335.44" y="421.50" text-anchor="middle" class="t">Oct</text><text x="357.65" y="421.50" text-anchor="middle" class="t">Jan</text><text x="379.37" y="421.50" text-anchor="middle" class="t">Apr</text><text x="401.34" y="421.50" text-anchor="middle" class="t">Jul</text><text x="423.54" y="421.50" text-anchor="middle" class="t">Oct</text><text x="445.75" y="421.50" text-anchor="middle" class="t">Jan</text><text transform="translate(243.65,319.35) rotate(-90)" text-anchor="middle" class="yl">Outbreak risk</text><rect x="313.60" y="372.80" width="127.00" height="29.30" rx="2.2" fill="#ffffff" fill-opacity="0.8" stroke="#cccccc" stroke-opacity="0.8" stroke-width="0.9"/><path d="M316.90,379.60H337.00" stroke="#000000" stroke-opacity="0.72" stroke-width="1.55" stroke-dasharray="4.7 2.6"/><text x="344.20" y="382.90" class="lg">Without vaccination</text><path d="M316.90,393.00H337.00" stroke="#E69F00" stroke-width="1.55"/><text x="344.20" y="396.30" class="lg">Optimised vaccination</text><text x="231.0" y="227.1" class="pl">E.</text><rect x="548.08" y="231.20" width="41.27" height="176.30" fill="#bebebe"/><rect x="636.18" y="231.20" width="40.67" height="176.30" fill="#bebebe"/><path d="M500.6,249.0L501.0,249.1L501.4,249.1L501.7,249.2L502.1,249.3L502.5,249.4L502.8,249.5L503.2,249.6L503.5,249.7L503.9,249.8L504.3,249.9L504.6,250.1L505.0,250.3L505.4,250.4L505.7,250.6L506.1,250.8L506.4,251.0L506.8,251.2L507.2,251.5L507.5,251.7L507.9,252.0L508.3,252.2L508.6,252.5L509.0,252.8L509.3,253.1L509.7,253.4L510.1,253.7L510.4,254.0L510.8,254.4L511.1,254.7L511.5,255.1L511.9,255.4L512.2,255.8L512.6,256.2L513.0,256.6L513.3,257.0L513.7,257.4L514.0,257.9L514.4,258.3L514.8,258.7L515.1,259.2L515.5,259.7L515.9,260.1L516.2,260.6L516.6,261.1L516.9,261.6L517.3,262.1L517.7,262.6L518.0,263.2L518.4,263.7L518.8,264.2L519.1,264.8L519.5,265.3L519.8,265.9L520.2,266.4L520.6,267.0L520.9,267.6L521.3,268.2L521.6,268.8L522.0,269.4L522.4,269.9L522.7,270.5L523.1,271.1L523.5,271.8L523.8,272.4L524.2,273.0L524.5,273.6L524.9,274.2L525.3,274.8L525.6,275.4L526.0,276.0L526.4,276.7L526.7,277.3L527.1,277.9L527.4,278.5L527.8,279.1L528.2,279.7L528.5,280.3L528.9,280.9L529.3,281.5L529.6,282.1L530.0,282.6L530.3,283.2L530.7,283.8L531.1,284.3L531.4,284.9L531.8,285.4L532.1,285.9L532.5,286.5L532.9,287.0L533.2,287.5L533.6,288.0L534.0,288.4L534.3,288.9L534.7,289.3L535.0,289.8L535.4,290.2L535.8,290.6L536.1,291.0L536.5,291.3L536.9,291.7L537.2,292.0L537.6,292.3L537.9,292.6L538.3,292.9L538.7,293.2L539.0,293.4L539.4,293.6L539.8,293.8L540.1,294.0L540.5,294.2L540.8,294.3L541.2,294.4L541.6,294.5L541.9,294.6L542.3,294.7L542.6,294.7L543.0,294.7L543.4,294.7L543.7,294.7L544.1,294.6L544.5,294.6L544.8,294.5L545.2,294.4L545.5,294.2L545.9,294.1L546.3,293.9L546.6,293.7L547.0,293.5L547.4,293.3L547.7,293.0L548.1,292.7L548.4,292.5L548.8,292.2L549.2,291.8L549.5,291.5L549.9,291.1L550.3,290.8L550.6,290.4L551.0,290.0L551.3,289.6L551.7,289.1L552.1,288.7L552.4,288.2L552.8,287.8L553.1,287.3L553.5,286.8L553.9,286.3L554.2,285.8L554.6,285.3L555.0,284.8L555.3,284.2L555.7,283.7L556.0,283.1L556.4,282.6L556.8,282.0L557.1,281.4L557.5,280.9L557.9,280.3L558.2,279.7L558.6,279.1L558.9,278.5L559.3,278.0L559.7,277.4L560.0,276.8L560.4,276.2L560.8,275.6L561.1,275.0L561.5,274.4L561.8,273.8L562.2,273.2L562.6,272.6L562.9,272.0L563.3,271.4L563.6,270.9L564.0,270.3L564.4,269.7L564.7,269.1L565.1,268.6L565.5,268.0L565.8,267.4L566.2,266.9L566.5,266.3L566.9,265.8L567.3,265.3L567.6,264.7L568.0,264.2L568.4,263.7L568.7,263.2L569.1,262.7L569.4,262.2L569.8,261.7L570.2,261.2L570.5,260.7L570.9,260.2L571.3,259.8L571.6,259.3L572.0,258.9L572.3,258.4L572.7,258.0L573.1,257.6L573.4,257.2L573.8,256.8L574.1,256.4L574.5,256.0L574.9,255.6L575.2,255.3L575.6,254.9L576.0,254.6L576.3,254.2L576.7,253.9L577.0,253.6L577.4,253.3L577.8,253.0L578.1,252.7L578.5,252.4L578.9,252.2L579.2,251.9L579.6,251.7L579.9,251.4L580.3,251.2L580.7,251.0L581.0,250.8L581.4,250.6L581.8,250.4L582.1,250.3L582.5,250.1L582.8,249.9L583.2,249.8L583.6,249.7L583.9,249.6L584.3,249.5L584.6,249.4L585.0,249.3L585.4,249.2L585.7,249.1L586.1,249.1L586.5,249.0L586.8,249.0L587.2,249.0L587.5,249.0L587.9,249.0L588.3,249.0L588.6,249.0L589.0,249.1L589.4,249.1L589.7,249.2L590.1,249.2L590.4,249.3L590.8,249.4L591.2,249.5L591.5,249.6L591.9,249.8L592.2,249.9L592.6,250.0L593.0,250.2L593.3,250.4L593.7,250.6L594.1,250.8L594.4,251.0L594.8,251.2L595.1,251.4L595.5,251.6L595.9,251.9L596.2,252.1L596.6,252.4L597.0,252.7L597.3,253.0L597.7,253.3L598.0,253.6L598.4,253.9L598.8,254.3L599.1,254.6L599.5,255.0L599.9,255.3L600.2,255.7L600.6,256.1L600.9,256.5L601.3,256.9L601.7,257.3L602.0,257.7L602.4,258.2L602.7,258.6L603.1,259.0L603.5,259.5L603.8,260.0L604.2,260.5L604.6,260.9L604.9,261.4L605.3,262.0L605.6,262.5L606.0,263.0L606.4,263.5L606.7,264.0L607.1,264.6L607.5,265.1L607.8,265.7L608.2,266.3L608.5,266.8L608.9,267.4L609.3,268.0L609.6,268.6L610.0,269.2L610.4,269.7L610.7,270.3L611.1,270.9L611.4,271.6L611.8,272.2L612.2,272.8L612.5,273.4L612.9,274.0L613.2,274.6L613.6,275.2L614.0,275.8L614.3,276.4L614.7,277.1L615.1,277.7L615.4,278.3L615.8,278.9L616.1,279.5L616.5,280.1L616.9,280.7L617.2,281.3L617.6,281.9L618.0,282.4L618.3,283.0L618.7,283.6L619.0,284.1L619.4,284.7L619.8,285.2L620.1,285.8L620.5,286.3L620.9,286.8L621.2,287.3L621.6,287.8L621.9,288.3L622.3,288.7L622.7,289.2L623.0,289.6L623.4,290.0L623.7,290.4L624.1,290.8L624.5,291.2L624.8,291.6L625.2,291.9L625.6,292.2L625.9,292.5L626.3,292.8L626.6,293.1L627.0,293.3L627.4,293.6L627.7,293.8L628.1,294.0L628.5,294.1L628.8,294.3L629.2,294.4L629.5,294.5L629.9,294.6L630.3,294.7L630.6,294.7L631.0,294.7L631.4,294.7L631.7,294.7L632.1,294.7L632.4,294.6L632.8,294.5L633.2,294.4L633.5,294.3L633.9,294.1L634.2,294.0L634.6,293.8L635.0,293.6L635.3,293.3L635.7,293.1L636.1,292.8L636.4,292.6L636.8,292.3L637.1,291.9L637.5,291.6L637.9,291.3L638.2,290.9L638.6,290.5L639.0,290.1L639.3,289.7L639.7,289.3L640.0,288.9L640.4,288.4L640.8,287.9L641.1,287.5L641.5,287.0L641.9,286.5L642.2,286.0L642.6,285.5L642.9,284.9L643.3,284.4L643.7,283.9L644.0,283.3L644.4,282.8L644.7,282.2L645.1,281.6L645.5,281.1L645.8,280.5L646.2,279.9L646.6,279.3L646.9,278.7L647.3,278.2L647.6,277.6L648.0,277.0L648.4,276.4L648.7,275.8L649.1,275.2L649.5,274.6L649.8,274.0L650.2,273.4L650.5,272.8L650.9,272.2L651.3,271.6L651.6,271.1L652.0,270.5L652.4,269.9L652.7,269.3L653.1,268.8L653.4,268.2L653.8,267.6L654.2,267.1L654.5,266.5L654.9,266.0L655.2,265.4L655.6,264.9L656.0,264.4L656.3,263.9L656.7,263.3L657.1,262.8L657.4,262.3L657.8,261.8L658.1,261.3L658.5,260.9L658.9,260.4L659.2,259.9L659.6,259.5L660.0,259.0L660.3,258.6L660.7,258.2L661.0,257.7L661.4,257.3L661.8,256.9L662.1,256.5L662.5,256.1L662.9,255.8L663.2,255.4L663.6,255.0L663.9,254.7L664.3,254.4L664.7,254.0L665.0,253.7L665.4,253.4L665.7,253.1L666.1,252.8L666.5,252.5L666.8,252.3L667.2,252.0L667.6,251.8L667.9,251.5L668.3,251.3L668.6,251.1L669.0,250.9L669.4,250.7L669.7,250.5L670.1,250.3L670.5,250.1L670.8,250.0L671.2,249.9L671.5,249.7L671.9,249.6L672.3,249.5L672.6,249.4L673.0,249.3L673.4,249.2L673.7,249.2L674.1,249.1L674.4,249.1L674.8,249.0L675.2,249.0L675.5,249.0L675.9,249.0L676.2,249.0L676.6,249.0" stroke="#000000" stroke-opacity="0.72" stroke-width="1.55" stroke-dasharray="4.7 2.6" fill="none"/><path d="M500.6,328.6L500.8,328.7L501.0,326.9L501.4,326.3L501.7,325.7L502.1,325.1L502.5,324.5L502.8,323.9L503.2,323.4L503.5,322.8L503.9,322.3L504.3,321.8L504.6,321.3L505.0,320.9L505.4,320.4L505.7,320.0L506.1,319.5L506.4,319.1L506.8,318.7L507.2,318.4L507.5,318.0L507.9,317.7L508.3,317.3L508.6,317.0L509.0,316.7L509.3,316.4L509.7,316.1L510.1,315.9L510.4,315.6L510.8,315.4L511.1,315.2L511.5,315.0L511.9,314.8L512.2,314.7L512.6,314.5L513.0,314.4L513.3,314.2L513.7,314.1L514.0,314.0L514.4,313.9L514.8,313.8L515.1,313.8L515.5,313.7L515.9,313.7L516.2,313.7L516.6,313.7L516.9,313.7L517.3,313.7L517.7,313.7L518.0,313.7L518.4,313.8L518.8,313.8L519.1,313.9L519.5,314.0L519.8,314.1L520.2,314.2L520.6,314.3L520.9,314.4L521.3,314.5L521.6,314.6L522.0,314.8L522.4,314.9L522.7,315.1L523.1,315.2L523.5,315.4L523.8,315.5L524.2,315.7L524.5,315.9L524.9,316.1L525.3,316.3L525.6,316.4L526.0,316.6L526.4,316.8L526.7,317.0L527.1,317.2L527.4,317.4L527.8,317.6L528.2,317.8L528.5,318.0L528.9,318.2L529.3,318.4L529.6,318.6L530.0,318.8L530.3,319.0L530.7,319.1L531.1,319.3L531.4,319.5L531.8,319.6L532.1,319.8L532.5,319.9L532.9,320.1L533.2,320.2L533.6,320.3L534.0,320.4L534.3,320.6L534.7,320.6L535.0,320.7L535.4,320.8L535.8,320.9L536.1,320.9L536.5,320.9L536.9,320.9L537.2,321.0L537.6,320.9L537.9,320.9L538.3,320.9L538.7,320.8L539.0,320.8L539.4,320.7L539.8,320.6L540.1,320.4L540.5,320.3L540.8,320.2L541.2,320.0L541.6,319.8L541.9,319.6L542.3,319.4L542.6,319.1L543.0,318.9L543.4,318.6L543.7,318.3L544.1,318.0L544.5,317.7L544.8,317.4L545.2,317.0L545.5,316.6L545.9,316.2L546.3,315.8L546.6,315.4L547.0,315.0L547.4,314.5L547.7,314.1L548.0,314.8L548.1,314.8L548.4,315.0L548.8,315.2L549.2,315.4L549.5,315.5L549.9,315.6L550.3,315.7L550.6,315.8L551.0,315.9L551.3,316.0L551.7,316.0L552.1,316.1L552.4,316.1L552.8,316.2L553.1,316.2L553.5,316.2L553.9,316.2L554.2,316.1L554.6,316.1L555.0,316.1L555.3,316.1L555.7,316.0L556.0,316.0L556.4,315.9L556.8,315.8L557.1,315.8L557.5,315.7L557.9,315.6L558.2,315.5L558.6,315.4L558.9,315.4L559.3,315.3L559.7,315.2L560.0,315.1L560.4,315.0L560.8,314.9L561.1,314.8L561.5,314.7L561.8,314.6L562.2,314.5L562.6,314.5L562.9,314.4L563.3,314.3L563.6,314.2L564.0,314.1L564.4,314.1L564.7,314.0L565.1,314.0L565.5,313.9L565.8,313.9L566.2,313.8L566.5,313.8L566.9,313.7L567.3,313.7L567.6,313.7L568.0,313.7L568.4,313.7L568.7,313.7L569.1,313.7L569.4,313.8L569.8,313.8L570.2,313.8L570.5,313.9L570.9,313.9L571.3,314.0L571.6,314.1L572.0,314.2L572.3,314.3L572.7,314.4L573.1,314.5L573.4,314.6L573.8,314.7L574.1,314.9L574.5,315.0L574.9,315.2L575.2,315.4L575.6,315.5L576.0,315.7L576.3,315.9L576.7,316.2L577.0,316.4L577.4,316.6L577.8,316.9L578.1,317.1L578.5,317.4L578.9,317.7L579.2,317.9L579.6,318.2L579.9,318.5L580.3,318.9L580.7,319.2L581.0,319.5L581.4,319.8L581.8,320.2L582.1,320.6L582.5,320.9L582.8,321.3L583.2,321.7L583.6,322.1L583.9,322.5L584.3,322.9L584.6,323.3L585.0,323.8L585.4,324.2L585.7,324.6L586.1,325.1L586.5,325.5L586.8,326.0L587.2,326.5L587.5,326.9L587.9,327.4L588.3,327.9L588.6,328.4L588.9,328.7L589.0,327.1L589.4,326.5L589.7,325.9L590.1,325.3L590.4,324.7L590.8,324.1L591.2,323.6L591.5,323.0L591.9,322.5L592.2,322.0L592.6,321.5L593.0,321.0L593.3,320.6L593.7,320.1L594.1,319.7L594.4,319.3L594.8,318.9L595.1,318.5L595.5,318.1L595.9,317.8L596.2,317.4L596.6,317.1L597.0,316.8L597.3,316.5L597.7,316.2L598.0,316.0L598.4,315.7L598.8,315.5L599.1,315.3L599.5,315.1L599.9,314.9L600.2,314.7L600.6,314.5L600.9,314.4L601.3,314.3L601.7,314.1L602.0,314.0L602.4,314.0L602.7,313.9L603.1,313.8L603.5,313.8L603.8,313.7L604.2,313.7L604.6,313.7L604.9,313.7L605.3,313.7L605.6,313.7L606.0,313.7L606.4,313.8L606.7,313.8L607.1,313.9L607.5,314.0L607.8,314.0L608.2,314.1L608.5,314.2L608.9,314.3L609.3,314.5L609.6,314.6L610.0,314.7L610.4,314.9L610.7,315.0L611.1,315.2L611.4,315.3L611.8,315.5L612.2,315.7L612.5,315.8L612.9,316.0L613.2,316.2L613.6,316.4L614.0,316.6L614.3,316.8L614.7,317.0L615.1,317.2L615.4,317.4L615.8,317.6L616.1,317.8L616.5,317.9L616.9,318.1L617.2,318.3L617.6,318.5L618.0,318.7L618.3,318.9L618.7,319.1L619.0,319.3L619.4,319.4L619.8,319.6L620.1,319.7L620.5,319.9L620.9,320.0L621.2,320.2L621.6,320.3L621.9,320.4L622.3,320.5L622.7,320.6L623.0,320.7L623.4,320.8L623.7,320.8L624.1,320.9L624.5,320.9L624.8,320.9L625.2,321.0L625.6,320.9L625.9,320.9L626.3,320.9L626.6,320.8L627.0,320.8L627.4,320.7L627.7,320.6L628.1,320.5L628.5,320.4L628.8,320.2L629.2,320.0L629.5,319.9L629.9,319.7L630.3,319.5L630.6,319.2L631.0,319.0L631.4,318.7L631.7,318.4L632.1,318.1L632.4,317.8L632.8,317.5L633.2,317.1L633.5,316.8L633.9,316.4L634.2,316.0L634.6,315.6L635.0,315.1L635.3,314.7L635.7,314.2L636.1,314.8L636.4,315.0L636.8,315.1L637.1,315.3L637.5,315.5L637.9,315.6L638.2,315.7L638.6,315.8L639.0,315.9L639.3,316.0L639.7,316.0L640.0,316.1L640.4,316.1L640.8,316.1L641.1,316.2L641.5,316.2L641.9,316.2L642.2,316.2L642.6,316.1L642.9,316.1L643.3,316.1L643.7,316.0L644.0,316.0L644.4,315.9L644.7,315.8L645.1,315.8L645.5,315.7L645.8,315.6L646.2,315.6L646.6,315.5L646.9,315.4L647.3,315.3L647.6,315.2L648.0,315.1L648.4,315.0L648.7,314.9L649.1,314.8L649.5,314.7L649.8,314.7L650.2,314.6L650.5,314.5L650.9,314.4L651.3,314.3L651.6,314.2L652.0,314.2L652.4,314.1L652.7,314.0L653.1,314.0L653.4,313.9L653.8,313.9L654.2,313.8L654.5,313.8L654.9,313.8L655.2,313.7L655.6,313.7L656.0,313.7L656.3,313.7L656.7,313.7L657.1,313.7L657.4,313.7L657.8,313.8L658.1,313.8L658.5,313.9L658.9,313.9L659.2,314.0L659.6,314.0L660.0,314.1L660.3,314.2L660.7,314.3L661.0,314.4L661.4,314.6L661.8,314.7L662.1,314.8L662.5,315.0L662.9,315.1L663.2,315.3L663.6,315.5L663.9,315.7L664.3,315.9L664.7,316.1L665.0,316.3L665.4,316.5L665.7,316.8L666.1,317.0L666.5,317.3L666.8,317.6L667.2,317.8L667.6,318.1L667.9,318.4L668.3,318.7L668.6,319.1L669.0,319.4L669.4,319.7L669.7,320.1L670.1,320.4L670.5,320.8L670.8,321.2L671.2,321.6L671.5,322.0L671.9,322.4L672.3,322.8L672.6,323.2L673.0,323.6L673.4,324.0L673.7,324.5L674.1,324.9L674.4,325.4L674.8,325.8L675.2,326.3L675.5,326.8L675.9,327.3L676.2,327.8L676.6,328.2" stroke="#009E73" stroke-width="1.55" fill="none" stroke-linejoin="round"/><path d="M500.65,231.20V408.05M500.10,407.50H677.40" stroke="#333333" stroke-width="1.1" fill="none"/><path d="M496.45,407.50H500.65M496.45,372.24H500.65M496.45,336.98H500.65M496.45,301.72H500.65M496.45,266.46H500.65M496.45,231.20H500.65M500.65,407.50V411.50M508.13,407.50V411.50M514.89,407.50V411.50M522.37,407.50V411.50M529.61,407.50V411.50M537.10,407.50V411.50M544.34,407.50V411.50M551.82,407.50V411.50M559.30,407.50V411.50M566.54,407.50V411.50M574.03,407.50V411.50M581.27,407.50V411.50M588.75,407.50V411.50M596.23,407.50V411.50M602.99,407.50V411.50M610.47,407.50V411.50M617.71,407.50V411.50M625.20,407.50V411.50M632.44,407.50V411.50M639.92,407.50V411.50M647.40,407.50V411.50M654.64,407.50V411.50M662.13,407.50V411.50M669.37,407.50V411.50M676.85,407.50V411.50" stroke="#333333" stroke-width="1.0" fill="none"/><text x="494.05" y="411.25" text-anchor="end" class="t">0.0</text><text x="494.05" y="375.99" text-anchor="end" class="t">0.1</text><text x="494.05" y="340.73" text-anchor="end" class="t">0.2</text><text x="494.05" y="305.47" text-anchor="end" class="t">0.3</text><text x="494.05" y="270.21" text-anchor="end" class="t">0.4</text><text x="494.05" y="234.95" text-anchor="end" class="t">0.5</text><text x="500.65" y="421.50" text-anchor="middle" class="t">Jan</text><text x="522.37" y="421.50" text-anchor="middle" class="t">Apr</text><text x="544.34" y="421.50" text-anchor="middle" class="t">Jul</text><text x="566.54" y="421.50" text-anchor="middle" class="t">Oct</text><text x="588.75" y="421.50" text-anchor="middle" class="t">Jan</text><text x="610.47" y="421.50" text-anchor="middle" class="t">Apr</text><text x="632.44" y="421.50" text-anchor="middle" class="t">Jul</text><text x="654.64" y="421.50" text-anchor="middle" class="t">Oct</text><text x="676.85" y="421.50" text-anchor="middle" class="t">Jan</text><text transform="translate(474.75,319.35) rotate(-90)" text-anchor="middle" class="yl">Outbreak risk</text><rect x="544.70" y="372.80" width="127.00" height="29.30" rx="2.2" fill="#ffffff" fill-opacity="0.8" stroke="#cccccc" stroke-opacity="0.8" stroke-width="0.9"/><path d="M548.00,379.60H568.10" stroke="#000000" stroke-opacity="0.72" stroke-width="1.55" stroke-dasharray="4.7 2.6"/><text x="575.30" y="382.90" class="lg">Without vaccination</text><path d="M548.00,393.00H568.10" stroke="#009E73" stroke-width="1.55"/><text x="575.30" y="396.30" class="lg">Optimised vaccination</text><text x="462.0" y="227.1" class="pl">F.</text></svg></body></html>
